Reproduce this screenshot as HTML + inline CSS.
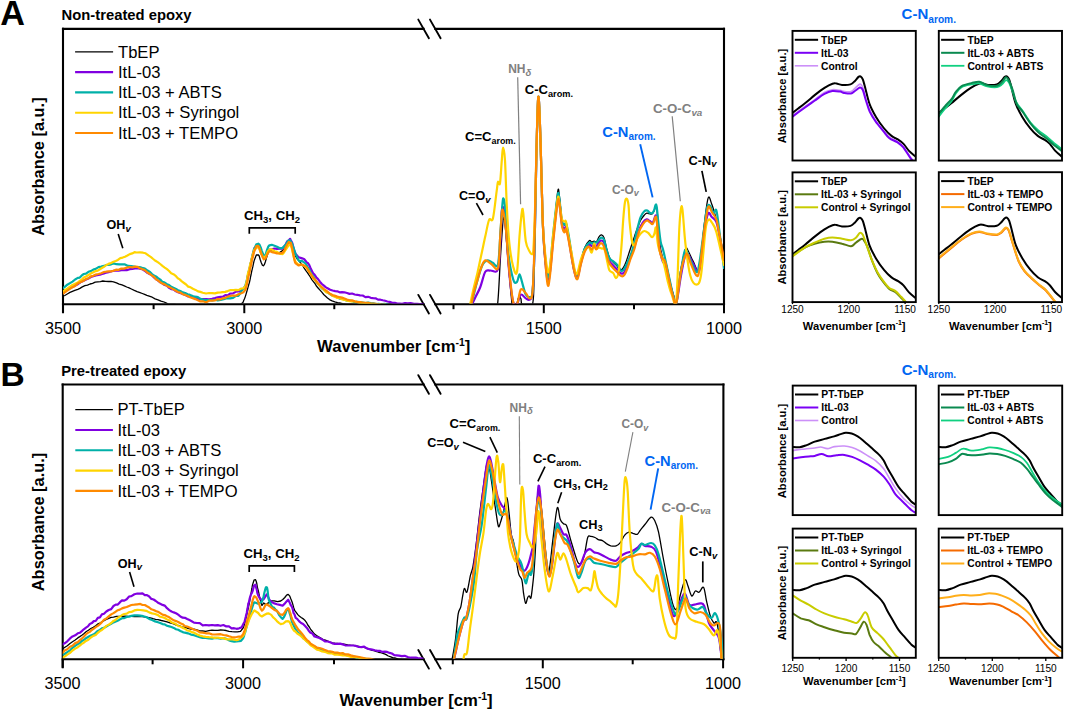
<!DOCTYPE html>
<html><head><meta charset="utf-8"><title>FTIR spectra</title>
<style>html,body{margin:0;padding:0;background:#fff;width:1065px;height:711px;overflow:hidden}
svg{display:block;font-family:"Liberation Sans", sans-serif}</style></head>
<body>
<svg width="1065" height="711" viewBox="0 0 1065 711" font-family='"Liberation Sans", sans-serif'>
<rect width="1065" height="711" fill="#fff"/>
<text x="0.3" y="24.8" font-size="34.20" font-weight="bold" fill="#000" text-anchor="start">A</text>
<text x="61.6" y="19.8" font-size="14.80" font-weight="bold" fill="#000" text-anchor="start">Non-treated epoxy</text>
<g stroke="#000" stroke-width="2.1" fill="none" stroke-linecap="square">
<path d="M63.0,28.9 V311.7"/>
<path d="M724.0,28.9 V304.2"/>
<path d="M63.0,28.9 H423.6 M435.3,28.9 H724.0"/>
<path d="M63.0,304.2 H423.6 M435.3,304.2 H724.0"/>
</g>
<g stroke="#000" stroke-width="1.9" stroke-linecap="round">
<path d="M418.3,19.6 L428.9,38.2"/>
<path d="M430.0,19.6 L440.6,38.2"/>
<path d="M418.3,294.9 L428.9,313.5"/>
<path d="M430.0,294.9 L440.6,313.5"/>
</g>
<g stroke="#000" stroke-width="2">
<path d="M63.0,304.2 V313.2"/>
<path d="M244.3,304.2 V313.2"/>
<path d="M543.8,304.2 V313.2"/>
<path d="M724.0,304.2 V313.2"/>
<path d="M153.6,304.2 V309.2"/>
<path d="M334.3,304.2 V309.2"/>
<path d="M453.5,304.2 V309.2"/>
<path d="M634.0,304.2 V309.2"/>
</g>
<text x="62.9" y="333.8" font-size="16.20" font-weight="normal" fill="#000" text-anchor="middle">3500</text>
<text x="244.3" y="333.8" font-size="16.20" font-weight="normal" fill="#000" text-anchor="middle">3000</text>
<text x="543.8" y="333.8" font-size="16.20" font-weight="normal" fill="#000" text-anchor="middle">1500</text>
<text x="724.0" y="333.8" font-size="16.20" font-weight="normal" fill="#000" text-anchor="middle">1000</text>
<text transform="translate(43.9,166.6) rotate(-90)" x="0" y="0" font-size="16.40" font-weight="bold" text-anchor="middle">Absorbance [a.u.]</text>
<text x="317.0" y="352.4" font-size="16.70" font-weight="bold">Wavenumber [cm<tspan font-size="10.35" dy="-6.3">-1</tspan><tspan dy="6.3">]</tspan></text>
<path d="M75.1,51.8 L113.1,51.8" stroke="#000" stroke-width="1.30" fill="none"/>
<text x="118.0" y="57.5" font-size="16.60" font-weight="normal" fill="#000" text-anchor="start">TbEP</text>
<path d="M75.1,72.1 L113.1,72.1" stroke="#8000e0" stroke-width="2.10" fill="none"/>
<text x="118.0" y="77.8" font-size="16.60" font-weight="normal" fill="#000" text-anchor="start">ItL-03</text>
<path d="M75.1,92.4 L113.1,92.4" stroke="#00b0a8" stroke-width="2.10" fill="none"/>
<text x="118.0" y="98.1" font-size="16.60" font-weight="normal" fill="#000" text-anchor="start">ItL-03 + ABTS</text>
<path d="M75.1,112.7 L113.1,112.7" stroke="#ffd400" stroke-width="2.10" fill="none"/>
<text x="118.0" y="118.4" font-size="16.60" font-weight="normal" fill="#000" text-anchor="start">ItL-03 + Syringol</text>
<path d="M75.1,133.0 L113.1,133.0" stroke="#ff8a00" stroke-width="2.10" fill="none"/>
<text x="118.0" y="138.7" font-size="16.60" font-weight="normal" fill="#000" text-anchor="start">ItL-03 + TEMPO</text>
<text x="0.6" y="385.9" font-size="33.50" font-weight="bold" fill="#000" text-anchor="start">B</text>
<text x="61.2" y="375.6" font-size="14.80" font-weight="bold" fill="#000" text-anchor="start">Pre-treated epoxy</text>
<g stroke="#000" stroke-width="2.1" fill="none" stroke-linecap="square">
<path d="M62.7,384.5 V666.8"/>
<path d="M723.4,384.5 V659.3"/>
<path d="M62.7,384.5 H423.6 M435.3,384.5 H723.4"/>
<path d="M62.7,659.3 H423.6 M435.3,659.3 H723.4"/>
</g>
<g stroke="#000" stroke-width="1.9" stroke-linecap="round">
<path d="M418.3,375.2 L428.9,393.8"/>
<path d="M430.0,375.2 L440.6,393.8"/>
<path d="M418.3,650.0 L428.9,668.6"/>
<path d="M430.0,650.0 L440.6,668.6"/>
</g>
<g stroke="#000" stroke-width="2">
<path d="M62.7,659.3 V668.3"/>
<path d="M243.1,659.3 V668.3"/>
<path d="M542.8,659.3 V668.3"/>
<path d="M723.1,659.3 V668.3"/>
<path d="M152.6,659.3 V664.3"/>
<path d="M334.0,659.3 V664.3"/>
<path d="M452.8,659.3 V664.3"/>
<path d="M632.7,659.3 V664.3"/>
</g>
<text x="62.6" y="689.0" font-size="16.20" font-weight="normal" fill="#000" text-anchor="middle">3500</text>
<text x="243.1" y="689.0" font-size="16.20" font-weight="normal" fill="#000" text-anchor="middle">3000</text>
<text x="542.8" y="689.0" font-size="16.20" font-weight="normal" fill="#000" text-anchor="middle">1500</text>
<text x="723.1" y="689.0" font-size="16.20" font-weight="normal" fill="#000" text-anchor="middle">1000</text>
<text transform="translate(43.6,522.0) rotate(-90)" x="0" y="0" font-size="16.40" font-weight="bold" text-anchor="middle">Absorbance [a.u.]</text>
<text x="339.4" y="705.8" font-size="16.70" font-weight="bold">Wavenumber [cm<tspan font-size="10.35" dy="-6.3">-1</tspan><tspan dy="6.3">]</tspan></text>
<path d="M75.3,409.7 L112.9,409.7" stroke="#000" stroke-width="1.30" fill="none"/>
<text x="117.5" y="415.4" font-size="16.60" font-weight="normal" fill="#000" text-anchor="start">PT-TbEP</text>
<path d="M75.3,430.0 L112.9,430.0" stroke="#8000e0" stroke-width="2.10" fill="none"/>
<text x="117.5" y="435.7" font-size="16.60" font-weight="normal" fill="#000" text-anchor="start">ItL-03</text>
<path d="M75.3,450.3 L112.9,450.3" stroke="#00b0a8" stroke-width="2.10" fill="none"/>
<text x="117.5" y="456.0" font-size="16.60" font-weight="normal" fill="#000" text-anchor="start">ItL-03 + ABTS</text>
<path d="M75.3,470.6 L112.9,470.6" stroke="#ffd400" stroke-width="2.10" fill="none"/>
<text x="117.5" y="476.3" font-size="16.60" font-weight="normal" fill="#000" text-anchor="start">ItL-03 + Syringol</text>
<path d="M75.3,490.9 L112.9,490.9" stroke="#ff8a00" stroke-width="2.10" fill="none"/>
<text x="117.5" y="496.6" font-size="16.60" font-weight="normal" fill="#000" text-anchor="start">ItL-03 + TEMPO</text>
<defs><clipPath id="cAL"><rect x="63" y="28" width="360.6" height="275.6"/></clipPath><clipPath id="cAR"><rect x="435.3" y="28" width="288.7" height="275.6"/></clipPath><clipPath id="cBL"><rect x="62.7" y="384" width="360.9" height="274.7"/></clipPath><clipPath id="cBR"><rect x="435.3" y="384" width="288.1" height="274.7"/></clipPath></defs>
<g clip-path="url(#cAL)">
<path d="M63.0,296.1 L64.8,295.5 L67.3,294.0 L70.0,292.4 L72.4,291.4 L74.8,290.4 L77.8,289.3 L79.9,288.4 L82.3,286.9 L84.9,285.7 L87.5,285.1 L90.0,284.0 L92.6,283.4 L95.2,282.2 L97.8,281.9 L100.4,281.6 L102.8,281.0 L105.7,281.4 L108.4,281.5 L111.0,281.4 L113.5,281.8 L116.5,282.9 L119.2,284.1 L122.0,284.9 L124.3,285.8 L126.7,287.0 L129.1,287.9 L131.4,289.0 L134.3,290.4 L137.1,291.6 L140.0,292.6 L142.3,293.5 L144.6,294.4 L146.9,295.4 L149.2,296.2 L152.2,297.2 L155.1,298.9 L158.0,299.8 L161.0,301.1 L164.1,302.0 L167.0,303.4 L167.8,304.0 L168.4,304.1 L175.0,304.5 L176.5,304.8 L178.3,304.8 L180.2,304.9 L182.4,304.6 L184.7,304.9 L187.2,304.8 L189.8,304.6 L192.5,304.8 L195.4,305.0 L198.3,304.9 L201.2,304.7 L204.2,304.8 L207.2,304.4 L210.2,304.5 L213.1,304.9 L216.0,304.6 L218.8,304.5 L221.5,304.7 L224.1,304.8 L226.5,304.7 L228.8,304.6 L230.9,304.6 L232.9,304.6 L234.6,304.8 L236.0,304.6 L242.2,304.5 L241.0,304.3 L243.1,302.2 L243.7,300.6 L244.5,298.8 L245.3,296.6 L246.2,293.6 L247.1,290.5 L248.0,287.4 L248.8,284.5 L249.4,282.5 L250.0,279.9 L250.5,277.1 L251.1,274.5 L251.7,271.3 L252.3,268.8 L252.9,266.4 L253.4,263.8 L253.9,261.7 L254.4,259.9 L256.3,255.0 L258.2,254.8 L259.1,255.8 L260.1,259.2 L261.2,262.5 L262.3,265.1 L263.4,265.8 L264.3,264.7 L265.3,262.0 L266.2,258.8 L267.3,255.4 L268.3,252.3 L269.4,250.9 L271.9,250.3 L274.6,251.4 L277.0,252.6 L279.8,252.3 L282.6,250.6 L284.4,248.4 L286.4,245.5 L288.3,243.1 L290.1,242.4 L291.1,243.4 L292.1,245.3 L293.0,248.1 L293.9,251.1 L294.8,254.1 L295.7,256.5 L297.5,259.3 L299.4,261.4 L301.4,264.0 L302.8,265.6 L304.2,268.2 L305.7,270.4 L307.2,272.4 L308.9,274.8 L310.3,276.9 L311.8,279.6 L313.4,281.6 L315.0,283.7 L316.6,286.3 L318.3,288.2 L320.0,290.1 L321.8,292.2 L323.7,294.5 L325.6,296.2 L327.5,297.9 L329.5,299.6 L332.1,300.8 L334.8,301.8 L337.6,302.6 L340.3,303.0 L342.7,303.7 L346.4,304.3 L349.7,304.3 L352.0,304.4" fill="none" stroke="#000" stroke-width="1.30" stroke-linejoin="round" stroke-linecap="round"/>
<path d="M63.0,293.0 L64.8,291.9 L67.3,289.1 L70.0,287.5 L72.5,287.1 L75.1,285.6 L77.8,284.2 L80.4,282.3 L83.1,281.1 L86.0,279.6 L88.4,278.5 L90.8,277.0 L93.3,276.3 L95.7,275.4 L98.5,274.8 L101.2,274.3 L104.0,273.5 L106.3,272.6 L108.6,272.1 L111.0,271.5 L113.5,270.8 L116.0,270.5 L118.7,270.6 L121.3,270.1 L124.0,269.9 L126.8,270.1 L129.7,269.2 L132.4,268.9 L134.9,268.4 L137.5,268.1 L139.8,268.7 L142.1,269.1 L144.7,270.7 L147.3,272.8 L150.0,274.2 L152.0,275.1 L154.0,277.5 L156.0,279.1 L158.1,280.6 L160.3,282.3 L162.5,283.5 L164.7,285.0 L167.0,285.8 L169.1,287.9 L171.2,289.1 L173.4,289.3 L176.0,291.3 L178.1,292.2 L180.3,292.9 L182.8,293.9 L185.2,294.9 L187.7,296.3 L190.0,296.5 L192.7,297.6 L195.3,297.7 L197.9,298.8 L200.4,299.2 L202.7,299.0 L206.1,299.2 L209.1,299.4 L212.0,298.8 L214.9,298.1 L217.7,297.3 L220.6,296.8 L222.9,296.6 L225.3,295.2 L227.7,295.3 L230.0,293.7 L233.1,293.4 L236.0,291.6 L238.4,291.5 L241.3,290.2 L243.4,288.8 L245.5,286.0 L246.2,284.2 L246.8,281.7 L247.4,278.5 L248.0,275.2 L248.8,272.0 L249.3,270.2 L249.9,267.2 L250.6,263.7 L251.2,261.6 L251.9,258.5 L252.6,255.9 L253.2,252.4 L253.8,250.8 L254.4,248.3 L258.2,246.2 L259.2,247.4 L260.3,250.1 L261.5,253.9 L262.7,255.5 L263.8,257.3 L265.6,256.4 L267.4,252.2 L269.4,249.5 L271.9,249.3 L274.5,248.5 L277.0,248.8 L279.8,248.6 L282.6,248.6 L284.0,246.8 L285.6,244.8 L287.1,241.4 L288.7,240.4 L290.1,238.8 L291.1,240.9 L292.1,242.5 L293.0,245.8 L293.9,249.8 L294.8,251.9 L295.7,254.1 L298.6,257.3 L301.4,258.1 L304.1,259.0 L307.0,262.6 L308.1,263.3 L309.3,265.2 L310.5,268.0 L311.8,270.7 L313.1,273.3 L314.5,274.6 L316.2,277.2 L318.0,279.1 L319.9,281.7 L321.9,284.0 L323.9,285.7 L325.9,287.4 L328.0,288.5 L330.2,289.7 L332.6,290.5 L335.2,291.1 L337.3,291.3 L339.6,292.3 L342.0,292.2 L344.4,292.3 L347.0,293.0 L349.5,293.9 L352.1,293.5 L354.7,294.5 L357.3,294.8 L360.0,295.4 L362.7,295.5 L365.4,297.1 L368.1,296.8 L370.8,297.8 L373.2,298.2 L375.6,298.3 L378.0,299.6 L380.4,299.7 L382.8,300.3 L385.1,300.8 L387.4,301.5 L389.6,301.8 L392.3,302.8 L394.9,302.9 L397.3,303.6 L399.7,303.6 L402.3,303.8 L405.0,303.0 L407.7,303.4 L410.7,303.2 L413.9,303.8 L417.0,303.9 L419.9,304.2 L422.3,304.2 L424.0,303.7" fill="none" stroke="#8000e0" stroke-width="2.20" stroke-linejoin="round" stroke-linecap="round"/>
<path d="M63.0,288.0 L64.8,286.9 L67.3,284.7 L70.0,283.1 L72.5,281.6 L75.1,279.5 L77.8,277.9 L79.8,277.6 L81.8,275.4 L83.8,274.0 L86.0,273.6 L88.4,271.8 L90.8,271.1 L93.3,269.6 L95.7,268.9 L98.5,267.1 L101.2,266.6 L104.0,265.9 L106.3,265.0 L108.7,264.8 L111.2,264.3 L113.5,263.4 L116.4,264.2 L119.1,264.3 L122.0,264.3 L125.0,264.4 L128.1,265.9 L131.4,266.0 L134.0,266.5 L136.8,267.0 L139.6,267.1 L142.1,267.9 L144.9,268.5 L147.5,270.6 L150.0,271.9 L152.0,274.0 L154.0,275.6 L156.0,276.4 L158.1,278.1 L160.3,279.6 L162.5,281.9 L164.7,282.6 L167.0,284.2 L169.1,285.1 L171.2,286.6 L173.4,287.8 L176.0,289.0 L178.1,290.2 L180.3,291.1 L182.8,292.4 L185.2,293.0 L187.7,294.2 L190.0,294.9 L192.7,296.1 L195.3,296.7 L197.9,297.1 L200.4,298.8 L202.7,299.6 L206.1,300.1 L209.1,300.0 L212.0,300.3 L214.9,299.8 L217.7,300.5 L220.6,300.0 L223.7,299.2 L226.9,298.2 L230.0,298.4 L233.1,297.8 L236.0,295.9 L238.4,295.8 L240.1,293.6 L241.3,291.1 L242.6,289.5 L244.1,288.1 L245.5,285.4 L246.2,282.3 L246.8,280.6 L247.4,277.3 L248.0,275.1 L248.8,271.2 L249.3,269.6 L249.9,267.2 L250.6,263.9 L251.2,261.6 L251.9,257.9 L252.6,254.9 L253.2,252.9 L253.8,250.0 L254.4,248.4 L256.4,244.2 L258.2,243.7 L259.5,244.7 L260.7,247.4 L261.9,251.1 L263.2,254.4 L264.7,256.9 L265.5,255.4 L266.3,252.3 L267.2,249.4 L268.2,246.8 L269.4,245.3 L271.8,244.8 L274.5,245.7 L277.0,246.7 L279.8,248.3 L282.6,247.9 L284.4,246.1 L286.4,243.6 L288.3,240.6 L290.1,240.2 L291.2,242.2 L292.2,243.8 L293.1,246.6 L294.0,249.0 L294.9,252.2 L295.7,254.6 L297.0,256.8 L298.2,259.6 L299.5,261.2 L301.9,260.8 L305.1,263.1 L306.2,264.4 L307.5,266.8 L308.9,268.8 L310.3,271.9 L311.7,274.6 L313.1,276.2 L314.5,278.4 L316.0,281.3 L317.6,283.7 L319.1,284.8 L320.6,286.8 L322.2,288.7 L323.9,289.9 L325.9,291.6 L328.0,292.9 L330.2,294.3 L332.6,295.7 L335.2,296.5 L337.3,297.3 L339.6,298.6 L342.0,298.4 L344.4,299.8 L347.0,300.6 L349.5,300.7 L352.1,301.1 L354.7,302.2 L357.3,301.9 L360.0,302.1 L362.7,302.6 L365.4,303.1 L368.1,302.6 L370.8,303.1 L373.3,303.3 L376.0,304.1 L378.8,303.8 L381.6,304.5 L384.2,303.8 L386.5,304.2 L388.5,304.7 L390.0,305.1" fill="none" stroke="#00b0a8" stroke-width="2.20" stroke-linejoin="round" stroke-linecap="round"/>
<path d="M63.0,291.6 L64.8,290.2 L67.3,288.7 L70.0,286.7 L72.5,285.0 L75.1,283.7 L77.8,282.5 L79.8,281.0 L81.8,279.6 L83.8,277.6 L86.0,276.5 L88.4,275.0 L90.8,273.6 L93.3,272.3 L95.7,271.1 L97.8,270.6 L99.9,269.3 L101.9,268.0 L104.0,266.8 L106.2,265.0 L108.5,263.9 L111.0,263.0 L113.5,261.8 L115.7,260.9 L117.9,259.9 L120.3,258.1 L122.7,257.6 L125.0,256.7 L127.4,255.5 L129.8,254.1 L132.2,253.4 L134.5,252.2 L136.7,252.5 L140.0,252.4 L143.0,252.7 L145.6,253.3 L148.4,255.4 L151.0,257.1 L153.2,259.0 L155.5,260.8 L158.1,262.4 L160.2,264.0 L162.4,265.9 L164.7,267.6 L167.0,269.2 L169.1,271.0 L171.2,273.2 L173.4,274.2 L176.0,276.2 L177.8,278.2 L179.7,279.4 L181.8,281.4 L184.0,283.0 L186.1,284.5 L188.2,286.6 L190.2,287.1 L192.9,288.8 L195.5,289.9 L198.0,291.4 L200.4,291.9 L202.7,292.7 L206.1,293.5 L209.1,293.0 L212.0,293.1 L214.9,293.4 L217.7,292.6 L220.6,292.4 L222.9,292.1 L225.3,291.9 L227.7,291.1 L230.0,290.2 L233.1,290.1 L236.0,289.9 L238.4,290.1 L241.3,288.5 L243.4,288.4 L245.5,286.0 L246.1,284.2 L246.6,281.7 L247.1,279.3 L247.6,275.5 L248.1,272.8 L248.8,270.5 L249.4,267.9 L250.1,264.8 L250.8,262.4 L251.6,259.2 L252.3,256.6 L253.1,253.5 L253.8,251.2 L254.4,249.7 L258.2,246.6 L259.2,248.5 L260.3,251.9 L261.5,254.3 L262.7,256.5 L263.8,257.7 L265.2,256.9 L266.5,254.8 L267.9,251.5 L269.4,249.6 L271.9,249.3 L274.5,251.3 L277.0,251.9 L279.8,253.7 L282.6,254.1 L284.0,252.5 L285.6,250.0 L287.1,247.7 L288.7,245.1 L290.1,244.6 L291.0,246.2 L291.7,248.1 L292.4,251.6 L293.1,253.9 L293.9,257.3 L294.7,260.3 L295.7,261.9 L297.8,264.3 L300.2,264.6 L302.7,265.0 L305.1,266.6 L306.7,268.0 L308.2,270.5 L309.8,272.6 L311.4,275.7 L312.9,278.0 L314.5,279.8 L316.3,281.6 L318.2,284.1 L320.0,286.1 L321.9,288.0 L323.9,289.8 L325.9,292.1 L328.0,292.7 L330.2,293.9 L332.6,296.0 L335.2,296.8 L337.3,298.0 L339.6,298.1 L342.0,299.4 L344.5,299.8 L347.0,300.6 L349.6,301.1 L352.1,301.4 L354.7,301.5 L357.4,302.1 L360.1,303.1 L362.8,303.5 L365.4,303.9 L367.8,303.6 L370.0,304.2 L373.3,304.6 L376.1,304.6 L378.4,304.9 L380.0,304.6" fill="none" stroke="#ffd400" stroke-width="2.20" stroke-linejoin="round" stroke-linecap="round"/>
<path d="M63.0,293.6 L64.8,292.4 L67.3,290.6 L70.0,288.9 L72.5,287.2 L75.1,285.9 L77.8,283.4 L80.4,282.2 L83.1,281.0 L86.0,279.1 L88.4,278.3 L90.8,276.4 L93.3,275.8 L95.7,274.6 L98.5,274.0 L101.2,273.3 L104.0,272.0 L106.3,271.7 L108.6,271.3 L111.0,271.4 L113.5,270.8 L116.0,269.7 L118.7,269.8 L121.3,268.6 L124.0,268.6 L126.8,267.6 L129.7,267.0 L132.4,267.4 L134.9,266.6 L137.5,266.8 L139.8,268.2 L142.1,269.1 L144.7,270.0 L147.3,272.5 L150.0,274.0 L152.0,275.7 L154.0,276.8 L156.0,279.2 L158.1,280.5 L160.3,282.3 L162.5,283.6 L164.7,284.4 L167.0,285.9 L169.1,286.9 L171.2,288.1 L173.4,289.3 L176.0,290.8 L178.1,292.1 L180.3,292.5 L182.8,294.2 L185.2,294.9 L187.7,295.9 L190.0,297.3 L192.7,298.1 L195.3,299.1 L197.9,300.3 L200.4,301.4 L202.7,301.3 L206.1,302.2 L209.1,300.7 L212.0,300.7 L214.9,300.4 L217.7,299.1 L220.6,299.3 L222.9,298.3 L225.3,297.9 L227.7,296.6 L230.0,296.0 L233.1,295.5 L236.0,295.6 L238.4,294.3 L241.3,293.3 L243.4,292.3 L245.5,289.6 L246.1,287.4 L246.6,285.5 L247.1,283.4 L247.6,281.1 L248.1,277.7 L248.8,275.2 L249.3,273.2 L249.8,270.8 L250.4,267.4 L251.0,265.5 L251.6,261.8 L252.2,259.3 L252.8,257.0 L253.4,254.9 L253.9,252.2 L254.4,251.1 L256.3,246.1 L258.2,245.8 L259.2,247.6 L260.3,250.7 L261.5,254.1 L262.7,257.3 L263.8,259.4 L265.6,258.4 L267.4,253.9 L269.4,251.1 L271.9,252.1 L274.5,252.8 L277.0,253.4 L279.8,253.5 L282.6,252.7 L284.0,251.0 L285.6,247.6 L287.1,244.5 L288.7,242.0 L290.1,242.7 L290.8,242.9 L291.5,245.3 L292.1,248.2 L292.7,250.4 L293.3,254.1 L293.9,257.4 L294.5,259.9 L295.1,262.4 L295.7,263.4 L298.7,265.5 L301.4,264.4 L305.1,266.0 L306.3,267.0 L307.8,269.2 L309.4,272.2 L311.2,274.6 L312.9,277.2 L314.5,278.9 L316.3,281.2 L318.2,283.6 L320.0,285.5 L321.9,287.2 L323.9,289.1 L325.9,290.4 L328.0,292.1 L330.2,294.0 L332.6,295.1 L335.2,295.9 L337.3,296.6 L339.6,297.2 L342.0,297.6 L344.4,298.5 L347.0,299.6 L349.5,300.3 L352.1,300.4 L354.7,301.3 L357.4,301.8 L360.2,302.1 L363.0,302.5 L365.7,302.9 L368.3,302.9 L370.8,303.5 L374.2,303.5 L377.5,304.0 L380.6,304.5 L383.1,304.6 L385.0,304.4" fill="none" stroke="#ff8a00" stroke-width="2.20" stroke-linejoin="round" stroke-linecap="round"/>
</g>
<g clip-path="url(#cAR)">
<path d="M494.0,304.6 C494.6,304.5 496.5,312.0 497.6,304.0 C498.7,296.0 499.6,270.4 500.5,256.6 C501.4,242.8 502.4,227.4 503.0,221.1 C503.6,214.8 503.9,217.8 504.3,218.6 C504.7,219.4 504.8,222.1 505.2,226.0 C505.6,229.9 506.1,236.0 506.6,242.0 C507.1,248.0 507.6,255.2 508.2,262.0 C508.8,268.8 509.4,276.2 510.0,283.0 C510.6,289.8 511.5,299.4 511.9,303.0 C512.3,306.6 511.8,304.3 512.6,304.6 C513.4,304.9 515.6,305.5 516.5,304.6 C517.4,303.7 517.5,300.4 518.0,299.0 C518.5,297.6 519.0,296.5 519.5,296.5 C520.0,296.5 520.5,297.6 521.0,299.0 C521.5,300.4 520.6,303.7 522.5,304.6 C524.4,305.5 530.5,312.0 532.5,304.6 C534.5,297.2 533.6,284.1 534.2,260.0 C534.8,235.9 535.5,187.2 536.2,160.0 C536.9,132.8 537.6,100.3 538.3,97.0 C539.0,93.7 539.8,120.3 540.5,140.0 C541.2,159.7 541.9,196.7 542.5,215.0 C543.1,233.3 543.4,239.3 544.2,250.0 C545.1,260.7 546.6,275.7 547.6,279.0 C548.6,282.3 549.1,277.5 550.1,270.0 C551.1,262.5 552.2,247.0 553.5,234.0 C554.8,221.0 556.7,198.1 557.7,191.8 C558.7,185.5 558.7,191.3 559.4,196.0 C560.1,200.7 561.1,215.2 561.9,220.0 C562.7,224.8 563.7,224.4 564.4,225.0 C565.1,225.6 565.4,221.7 566.1,223.5 C566.8,225.3 567.4,228.4 568.7,236.0 C570.0,243.6 572.5,262.7 574.0,269.2 C575.5,275.7 576.2,276.4 577.4,275.1 C578.5,273.8 579.7,265.9 580.9,261.3 C582.1,256.7 583.4,251.0 584.8,247.6 C586.2,244.2 588.1,241.6 589.2,240.7 C590.4,239.8 590.9,242.0 591.7,242.1 C592.5,242.2 593.3,241.3 594.1,241.2 C594.9,241.1 595.8,242.4 596.6,241.7 C597.4,240.9 598.3,237.8 599.1,236.7 C599.9,235.5 600.7,234.6 601.5,234.8 C602.3,235.0 603.2,235.6 604.0,237.7 C604.8,239.8 605.5,244.3 606.4,247.6 C607.3,250.9 608.2,254.9 609.4,257.4 C610.5,259.8 612.0,260.8 613.3,262.3 C614.6,263.8 616.1,265.0 617.3,266.3 C618.4,267.6 619.2,269.9 620.2,270.2 C621.2,270.5 622.2,269.4 623.2,268.0 C624.2,266.6 624.9,265.0 626.0,262.0 C627.1,259.0 628.6,254.2 630.0,250.0 C631.4,245.8 633.0,240.7 634.3,237.0 C635.5,233.3 636.5,230.8 637.5,228.0 C638.5,225.2 639.4,222.7 640.5,220.5 C641.6,218.3 643.3,216.3 644.3,215.1 C645.3,213.9 645.9,213.4 646.7,213.2 C647.5,212.9 648.1,213.5 649.0,213.6 C649.9,213.7 651.2,214.4 652.0,214.0 C652.8,213.6 653.4,212.2 654.0,211.0 C654.6,209.8 655.0,207.2 655.5,207.0 C656.0,206.8 656.4,205.6 657.0,210.0 C657.6,214.4 658.4,227.2 659.0,233.7 C659.6,240.2 659.8,244.4 660.6,249.1 C661.4,253.8 662.6,257.2 663.9,262.0 C665.2,266.8 667.0,272.7 668.5,278.0 C670.0,283.3 671.9,290.0 673.2,294.0 C674.5,298.0 675.3,304.3 676.3,302.0 C677.3,299.7 678.5,285.5 679.3,280.0 C680.1,274.5 679.9,274.3 680.9,269.2 C681.9,264.1 684.3,252.2 685.5,249.1 C686.7,246.0 686.7,248.4 688.0,250.5 C689.3,252.6 691.3,258.3 693.2,261.4 C695.1,264.5 697.6,275.1 699.4,269.2 C701.2,263.3 702.6,237.8 704.1,225.9 C705.6,214.1 706.8,201.7 708.1,198.1 C709.4,194.5 710.4,200.7 711.8,204.3 C713.2,207.9 715.0,214.4 716.4,219.7 C717.8,225.0 718.7,229.6 720.0,236.0 C721.3,242.4 723.3,254.3 724.0,258.0" fill="none" stroke="#000" stroke-width="1.30" stroke-linejoin="round" stroke-linecap="round"/>
<path d="M472.0,304.6 C472.7,303.2 474.6,298.9 476.0,296.0 C477.4,293.1 478.8,291.0 480.3,287.0 C481.9,283.0 483.6,274.6 485.3,271.8 C487.0,269.1 488.3,270.9 490.4,270.5 C492.5,270.1 496.3,274.3 498.0,269.2 C499.7,264.1 499.9,249.7 500.5,240.0 C501.1,230.3 501.3,216.2 501.8,211.0 C502.3,205.8 502.9,206.4 503.5,208.5 C504.1,210.6 504.6,212.7 505.6,223.7 C506.6,234.7 508.1,261.2 509.4,274.3 C510.7,287.4 511.9,297.1 513.2,302.0 C514.5,306.9 515.7,305.2 517.0,304.0 C518.3,302.8 519.3,295.5 520.8,294.6 C522.3,293.7 524.3,297.6 525.8,298.4 C527.3,299.2 528.5,300.5 529.6,299.6 C530.7,298.7 531.7,301.3 532.5,293.0 C533.3,284.7 533.9,272.2 534.5,250.0 C535.1,227.8 535.7,185.5 536.3,160.0 C536.9,134.5 537.6,100.3 538.3,97.0 C539.0,93.7 539.8,120.3 540.5,140.0 C541.2,159.7 541.9,197.0 542.5,215.0 C543.1,233.0 543.4,237.0 544.2,248.0 C545.1,259.0 546.6,277.2 547.6,281.0 C548.6,284.8 549.1,278.5 550.1,271.0 C551.1,263.5 552.2,248.0 553.5,236.0 C554.8,224.0 556.7,204.5 557.7,199.0 C558.7,193.5 558.7,198.8 559.4,203.0 C560.1,207.2 561.1,219.6 561.9,224.0 C562.7,228.4 563.7,229.2 564.4,229.7 C565.1,230.2 565.4,225.4 566.1,227.0 C566.8,228.6 567.4,231.8 568.7,239.0 C570.0,246.2 572.5,263.6 574.0,270.0 C575.5,276.4 576.2,278.7 577.4,277.5 C578.5,276.3 579.7,267.6 580.9,263.0 C582.1,258.4 583.4,253.1 584.8,250.0 C586.2,246.9 588.1,245.2 589.2,244.5 C590.4,243.8 590.9,246.0 591.7,246.0 C592.5,246.0 593.3,244.5 594.1,244.5 C594.9,244.5 595.8,246.4 596.6,246.0 C597.4,245.6 598.3,242.9 599.1,242.0 C599.9,241.1 600.7,240.4 601.5,240.5 C602.3,240.6 603.2,240.7 604.0,242.5 C604.8,244.3 605.5,248.4 606.4,251.5 C607.3,254.6 608.2,258.7 609.4,261.0 C610.5,263.3 612.0,264.1 613.3,265.5 C614.6,266.9 616.0,268.2 617.3,269.5 C618.6,270.8 620.1,273.0 621.2,273.5 C622.4,274.0 623.2,273.8 624.2,272.5 C625.2,271.2 626.5,268.6 627.5,266.0 C628.5,263.4 629.4,260.2 630.5,257.0 C631.6,253.8 632.9,251.4 634.3,247.0 C635.7,242.6 637.5,234.6 638.9,230.5 C640.3,226.4 641.5,224.4 642.8,222.5 C644.1,220.6 645.6,219.6 646.7,219.3 C647.9,219.1 648.7,220.5 649.7,221.0 C650.7,221.5 651.8,223.4 652.8,222.5 C653.8,221.6 654.9,216.1 655.5,215.5 C656.1,214.9 656.2,215.6 656.7,219.0 C657.2,222.4 657.8,231.0 658.3,236.0 C658.8,241.0 658.8,244.7 659.6,249.0 C660.4,253.3 662.0,259.8 663.0,262.0 C664.0,264.2 664.2,258.7 665.3,262.0 C666.4,265.3 668.4,276.3 669.7,282.0 C671.0,287.7 672.1,292.5 673.2,296.0 C674.3,299.5 675.0,306.4 676.3,303.1 C677.6,299.8 679.4,284.2 680.9,276.0 C682.4,267.8 684.3,257.7 685.5,254.0 C686.7,250.3 686.7,252.3 688.0,254.0 C689.3,255.7 691.3,261.3 693.2,264.0 C695.1,266.7 697.6,275.3 699.4,270.0 C701.2,264.7 702.6,241.4 704.1,232.0 C705.6,222.6 706.8,216.1 708.1,213.6 C709.4,211.1 710.4,215.6 711.8,217.0 C713.2,218.4 715.1,218.8 716.4,222.0 C717.7,225.2 718.2,229.3 719.5,236.0 C720.8,242.7 723.2,257.7 724.0,262.0" fill="none" stroke="#8000e0" stroke-width="2.20" stroke-linejoin="round" stroke-linecap="round"/>
<path d="M471.4,304.2 C472.4,300.1 475.8,286.1 477.7,279.4 C479.6,272.7 481.1,267.4 482.8,264.2 C484.5,261.0 486.1,260.6 487.8,260.4 C489.5,260.2 491.2,262.3 492.9,262.9 C494.6,263.5 496.7,269.5 498.0,264.2 C499.3,258.9 499.8,241.4 500.5,231.3 C501.2,221.2 502.0,208.9 502.5,203.4 C503.0,197.9 503.1,198.0 503.5,198.4 C503.9,198.8 504.2,197.2 505.0,206.0 C505.8,214.8 506.7,239.3 508.1,251.5 C509.5,263.7 511.7,274.3 513.2,279.4 C514.7,284.5 516.0,282.8 517.0,281.9 C518.0,281.0 518.7,274.3 519.5,274.3 C520.3,274.3 521.0,278.5 522.0,281.9 C523.0,285.3 524.5,292.1 525.8,294.6 C527.1,297.1 528.5,297.5 529.6,297.1 C530.7,296.7 531.7,299.9 532.5,292.0 C533.3,284.1 533.9,272.0 534.5,250.0 C535.1,228.0 535.7,185.5 536.3,160.0 C536.9,134.5 537.6,100.3 538.3,97.0 C539.0,93.7 539.8,120.3 540.5,140.0 C541.2,159.7 541.9,197.3 542.5,215.0 C543.1,232.7 543.4,235.8 544.2,246.0 C545.1,256.2 546.6,272.5 547.6,276.0 C548.6,279.5 549.1,274.5 550.1,267.0 C551.1,259.5 552.2,243.0 553.5,231.0 C554.8,219.0 556.7,200.5 557.7,195.2 C558.7,189.9 558.7,194.7 559.4,199.0 C560.1,203.3 561.1,216.8 561.9,221.0 C562.7,225.2 563.7,224.1 564.4,224.5 C565.1,224.9 565.4,221.7 566.1,223.5 C566.8,225.3 567.4,228.0 568.7,235.5 C570.0,243.0 572.5,262.0 574.0,268.5 C575.5,275.0 576.2,275.5 577.4,274.4 C578.5,273.3 579.7,266.3 580.9,262.0 C582.1,257.7 583.4,251.7 584.8,248.5 C586.2,245.3 588.1,243.4 589.2,242.6 C590.4,241.8 590.9,243.5 591.7,243.5 C592.5,243.5 593.3,242.7 594.1,242.5 C594.9,242.3 595.8,243.0 596.6,242.5 C597.4,242.0 598.3,240.3 599.1,239.5 C599.9,238.7 600.7,237.7 601.5,237.7 C602.3,237.7 603.2,237.8 604.0,239.7 C604.8,241.6 605.5,245.9 606.4,249.0 C607.3,252.1 608.2,256.3 609.4,258.4 C610.5,260.4 612.0,260.2 613.3,261.3 C614.6,262.4 615.9,263.4 617.3,265.0 C618.7,266.6 620.4,270.8 621.7,271.2 C623.0,271.6 624.0,269.1 625.1,267.2 C626.2,265.3 627.2,263.0 628.5,260.0 C629.8,257.0 631.4,253.8 632.7,249.1 C634.1,244.4 635.3,237.4 636.6,232.1 C637.9,226.8 639.2,220.9 640.5,217.4 C641.8,213.9 643.1,212.3 644.3,211.2 C645.4,210.0 646.5,210.2 647.4,210.5 C648.3,210.8 648.9,212.4 649.7,212.8 C650.5,213.2 651.4,213.6 652.1,213.2 C652.8,212.8 653.4,211.8 654.0,210.5 C654.6,209.2 655.0,205.8 655.5,205.1 C656.0,204.4 656.2,203.8 656.7,206.6 C657.2,209.4 657.6,216.3 658.3,222.1 C658.9,227.9 659.8,236.9 660.6,241.4 C661.4,245.9 662.1,246.1 662.9,249.1 C663.7,252.1 664.2,254.2 665.3,259.4 C666.4,264.6 668.4,274.1 669.7,280.1 C671.0,286.1 672.1,291.6 673.2,295.4 C674.3,299.2 675.3,305.4 676.3,303.1 C677.3,300.8 678.0,289.7 679.3,281.5 C680.6,273.3 682.8,258.8 684.0,253.7 C685.2,248.5 685.4,249.6 686.4,250.6 C687.4,251.6 688.6,256.3 690.2,259.9 C691.9,263.5 694.8,271.7 696.3,272.2 C697.8,272.7 698.1,270.2 699.4,263.0 C700.7,255.8 702.8,238.3 704.1,229.0 C705.4,219.7 706.1,211.3 707.1,207.4 C708.1,203.5 709.2,204.8 710.2,205.8 C711.2,206.8 712.3,212.8 713.3,213.6 C714.3,214.4 715.4,207.4 716.4,210.5 C717.4,213.6 718.2,222.5 719.5,232.1 C720.8,241.7 723.2,262.0 724.0,268.0" fill="none" stroke="#00b0a8" stroke-width="2.20" stroke-linejoin="round" stroke-linecap="round"/>
<path d="M470.1,304.6 C470.7,302.0 472.2,294.5 473.5,289.0 C474.8,283.5 476.4,277.6 477.7,271.8 C479.0,266.0 480.2,259.9 481.5,254.0 C482.8,248.1 484.0,242.0 485.3,236.3 C486.6,230.6 487.8,222.9 489.1,219.9 C490.4,216.9 491.6,223.4 492.9,218.6 C494.2,213.8 495.8,196.9 496.7,190.8 C497.6,184.7 497.4,183.2 498.0,181.9 C498.6,180.6 499.4,186.8 500.0,183.2 C500.6,179.6 501.3,166.3 501.8,160.4 C502.3,154.5 502.5,147.7 503.0,147.7 C503.5,147.7 504.4,150.7 505.0,160.4 C505.6,170.1 506.1,192.1 506.8,206.0 C507.5,219.9 508.3,233.8 509.4,243.9 C510.5,254.0 511.9,262.1 513.2,266.7 C514.5,271.3 516.0,276.9 517.0,271.8 C518.0,266.7 518.7,246.4 519.5,236.3 C520.3,226.2 521.4,214.8 522.0,211.0 C522.6,207.2 522.7,208.4 523.3,213.5 C523.9,218.6 524.8,235.1 525.8,241.4 C526.8,247.7 528.5,249.4 529.6,251.5 C530.7,253.6 531.6,254.4 532.2,254.0 C532.8,253.6 532.9,256.3 533.4,249.0 C533.9,241.7 534.5,226.5 535.0,210.0 C535.5,193.5 536.0,168.8 536.5,150.0 C537.0,131.2 537.6,98.7 538.3,97.0 C539.0,95.3 539.8,120.3 540.5,140.0 C541.2,159.7 541.9,197.7 542.5,215.0 C543.1,232.3 543.4,234.7 544.2,244.0 C545.1,253.3 546.6,267.5 547.6,271.0 C548.6,274.5 549.1,271.5 550.1,265.0 C551.1,258.5 552.2,243.1 553.5,232.0 C554.8,220.9 556.7,203.3 557.7,198.5 C558.7,193.7 558.7,199.6 559.4,203.0 C560.1,206.4 561.1,215.9 561.9,219.0 C562.7,222.1 563.7,220.8 564.4,221.3 C565.1,221.8 565.4,219.2 566.1,222.0 C566.8,224.8 567.7,232.4 568.7,238.0 C569.7,243.6 571.0,249.9 572.0,255.4 C573.0,260.9 574.1,268.2 575.0,271.2 C575.9,274.1 576.4,275.1 577.4,273.1 C578.4,271.1 579.7,263.2 580.9,259.4 C582.1,255.6 583.5,252.6 584.8,250.5 C586.1,248.4 587.6,246.7 588.7,247.0 C589.9,247.3 590.8,253.1 591.7,252.5 C592.6,251.9 593.4,244.2 594.1,243.6 C594.8,243.0 595.4,248.3 596.1,249.0 C596.9,249.7 597.7,247.7 598.6,247.6 C599.5,247.5 600.5,248.2 601.5,248.5 C602.5,248.8 603.5,247.2 604.5,249.5 C605.5,251.8 606.6,258.9 607.4,262.3 C608.2,265.8 608.4,268.4 609.4,270.2 C610.4,272.0 612.2,271.8 613.3,273.1 C614.4,274.4 615.0,278.1 615.8,278.1 C616.6,278.1 617.4,277.9 618.3,273.1 C619.2,268.3 620.4,258.4 621.2,249.5 C622.0,240.7 622.6,227.9 623.2,220.0 C623.8,212.1 624.4,205.5 625.0,202.0 C625.6,198.5 626.3,198.4 626.9,198.9 C627.5,199.4 628.0,201.1 628.5,205.0 C629.0,208.9 629.0,216.0 629.6,222.1 C630.2,228.2 631.2,237.5 632.0,241.4 C632.8,245.3 633.4,245.8 634.3,245.3 C635.2,244.8 636.4,240.2 637.4,238.3 C638.4,236.4 639.4,234.9 640.5,233.7 C641.6,232.5 643.0,231.1 644.3,231.0 C645.6,230.9 646.9,231.9 648.2,232.9 C649.5,233.9 651.1,237.1 652.1,237.2 C653.1,237.3 653.8,235.3 654.4,233.7 C655.0,232.1 655.4,226.2 655.9,227.5 C656.4,228.8 657.0,237.8 657.5,241.4 C658.0,245.0 657.9,245.3 659.0,249.1 C660.1,252.9 662.4,258.4 663.9,264.0 C665.4,269.6 666.9,278.0 668.2,283.0 C669.5,288.0 670.2,291.0 671.6,293.9 C673.0,296.8 675.0,310.9 676.3,300.1 C677.6,289.3 678.5,244.2 679.3,229.0 C680.1,213.8 680.4,212.1 680.9,208.9 C681.4,205.7 681.7,204.1 682.5,210.0 C683.3,215.9 684.2,233.5 685.5,244.4 C686.8,255.3 688.4,268.6 690.2,275.3 C692.0,282.0 694.5,284.6 696.3,284.6 C698.1,284.6 699.5,284.6 701.0,275.3 C702.5,266.0 704.3,238.3 705.6,229.0 C706.9,219.7 707.7,220.8 708.7,219.7 C709.7,218.6 710.5,220.4 711.8,222.5 C713.1,224.6 714.4,225.0 716.4,232.1 C718.4,239.2 722.7,259.5 724.0,265.0" fill="none" stroke="#ffd400" stroke-width="2.20" stroke-linejoin="round" stroke-linecap="round"/>
<path d="M471.4,304.6 C471.8,302.5 472.9,296.2 474.0,292.0 C475.1,287.8 476.5,283.4 477.7,279.4 C478.9,275.4 479.7,271.2 481.0,268.0 C482.3,264.8 483.5,261.0 485.3,260.4 C487.1,259.8 489.5,262.9 491.6,264.2 C493.7,265.5 496.6,272.0 498.0,268.0 C499.4,264.0 499.4,249.1 500.0,240.0 C500.6,230.9 501.3,218.3 501.8,213.5 C502.3,208.7 502.4,208.9 503.0,211.0 C503.6,213.1 504.5,216.1 505.6,226.2 C506.7,236.3 508.1,259.1 509.4,271.8 C510.7,284.5 511.9,296.7 513.2,302.2 C514.5,307.7 515.7,306.8 517.0,304.7 C518.3,302.6 519.3,291.4 520.8,289.5 C522.3,287.6 524.3,291.8 525.8,293.3 C527.3,294.8 528.5,298.6 529.6,298.4 C530.7,298.2 531.7,300.1 532.5,292.0 C533.3,283.9 533.7,272.0 534.3,250.0 C534.9,228.0 535.5,185.5 536.2,160.0 C536.9,134.5 537.6,100.1 538.3,96.8 C539.0,93.5 539.8,120.3 540.5,140.0 C541.2,159.7 541.9,197.1 542.5,215.0 C543.1,232.9 543.4,235.8 544.2,247.4 C545.1,259.0 546.6,280.0 547.6,284.5 C548.6,289.0 549.1,282.0 550.1,274.4 C551.1,266.8 552.2,251.1 553.5,239.0 C554.8,226.9 556.7,207.8 557.7,201.9 C558.7,196.0 558.7,199.7 559.4,203.6 C560.1,207.5 561.1,220.7 561.9,225.5 C562.7,230.3 563.7,231.7 564.4,232.3 C565.1,232.9 565.4,227.5 566.1,228.9 C566.8,230.3 567.4,233.8 568.7,240.7 C570.0,247.5 572.5,263.6 574.0,270.0 C575.5,276.4 576.2,280.1 577.4,279.1 C578.5,278.2 579.7,268.9 580.9,264.3 C582.1,259.7 583.5,254.4 584.8,251.5 C586.1,248.6 587.6,246.9 588.7,246.6 C589.9,246.3 590.8,249.7 591.7,249.5 C592.6,249.3 593.4,245.6 594.1,245.6 C594.8,245.6 595.4,249.5 596.1,249.5 C596.9,249.5 597.8,246.7 598.6,245.6 C599.4,244.5 600.2,243.1 601.0,243.1 C601.8,243.1 602.6,243.7 603.5,245.6 C604.4,247.5 605.4,251.4 606.4,254.4 C607.4,257.4 608.2,261.0 609.4,263.3 C610.5,265.6 612.0,266.7 613.3,268.2 C614.6,269.7 616.0,270.9 617.3,272.2 C618.6,273.5 620.1,275.6 621.2,276.1 C622.4,276.6 623.2,276.5 624.2,275.1 C625.2,273.8 626.5,270.7 627.5,268.0 C628.5,265.3 629.4,262.1 630.5,259.0 C631.6,255.8 632.9,253.6 634.3,249.1 C635.7,244.6 637.5,236.2 638.9,232.1 C640.3,228.0 641.5,226.3 642.8,224.4 C644.1,222.5 645.6,220.9 646.7,220.5 C647.9,220.1 648.7,221.5 649.7,222.1 C650.7,222.7 651.8,224.9 652.8,224.0 C653.8,223.1 654.9,217.3 655.5,216.7 C656.1,216.1 656.2,217.0 656.7,220.5 C657.2,224.0 657.8,232.7 658.3,237.5 C658.8,242.3 658.8,245.7 659.4,249.1 C660.0,252.5 661.0,255.8 662.0,258.0 C663.0,260.1 664.0,257.8 665.3,262.0 C666.6,266.2 668.4,277.2 669.7,283.0 C671.0,288.8 672.1,293.6 673.2,297.0 C674.3,300.4 675.0,307.3 676.3,303.1 C677.6,298.9 679.4,280.0 680.9,272.0 C682.4,264.0 684.3,258.1 685.5,255.3 C686.7,252.5 687.2,253.9 688.0,255.0 C688.8,256.1 688.8,258.6 690.2,262.0 C691.6,265.4 694.8,274.0 696.3,275.3 C697.8,276.6 698.1,277.2 699.4,270.0 C700.7,262.8 702.6,242.4 704.1,232.0 C705.6,221.6 706.8,210.7 708.1,207.4 C709.4,204.1 710.4,209.9 711.8,212.0 C713.2,214.1 715.1,215.9 716.4,219.7 C717.7,223.5 718.2,228.3 719.5,235.0 C720.8,241.7 723.2,255.8 724.0,260.0" fill="none" stroke="#ff8a00" stroke-width="2.20" stroke-linejoin="round" stroke-linecap="round"/>
</g>
<text x="106.5" y="229.4" font-size="12.60" font-weight="bold" fill="#000">OH<tspan font-size="9.50" dy="2.5" font-style="italic">v</tspan></text>
<path d="M118.2,234.0 L122.8,248.3" stroke="#000" stroke-width="1.60" fill="none"/>
<text x="244.0" y="219.7" font-weight="bold" fill="#000"><tspan font-size="13.20" dy="-0.0">CH</tspan><tspan font-size="9.50" dy="2.8">3</tspan><tspan font-size="13.20" dy="-2.8">, CH</tspan><tspan font-size="9.50" dy="2.8">2</tspan></text>
<path d="M249.3,233.8 V227.8 H295.2 V233.8" fill="none" stroke="#000" stroke-width="1.7"/>
<text x="459.0" y="200.2" font-size="12.60" font-weight="bold" fill="#000">C=O<tspan font-size="9.50" dy="2.5" font-style="italic">v</tspan></text>
<path d="M476.4,203.1 L483.0,215.0" stroke="#000" stroke-width="1.60" fill="none"/>
<text x="465.0" y="140.9" font-size="13.10" font-weight="bold" fill="#000">C=C<tspan font-size="8.90" dy="3.0">arom.</tspan></text>
<text x="508.2" y="73.4" font-size="12.00" font-weight="bold" fill="#808080">NH<tspan font-size="9.50" dy="2.2" font-style="italic">δ</tspan></text>
<path d="M517.7,77.2 L520.6,204.3" stroke="#808080" stroke-width="1.20" fill="none"/>
<text x="524.7" y="94.4" font-size="13.10" font-weight="bold" fill="#000">C-C<tspan font-size="9.20" dy="3.0">arom.</tspan></text>
<text x="602.3" y="136.9" font-size="14.70" font-weight="bold" fill="#0066f2">C-N<tspan font-size="10.00" dy="3.4">arom.</tspan></text>
<path d="M640.2,144.3 L652.6,197.4" stroke="#0066f2" stroke-width="1.90" fill="none"/>
<text x="612.0" y="193.9" font-size="11.90" font-weight="bold" fill="#808080">C-O<tspan font-size="9.00" dy="2.4" font-style="italic">v</tspan></text>
<text x="653.0" y="113.2" font-size="13.30" font-weight="bold" fill="#808080">C-O-C<tspan font-size="9.80" dy="2.6" font-style="italic">va</tspan></text>
<path d="M672.2,116.3 L680.3,201.2" stroke="#808080" stroke-width="1.20" fill="none"/>
<text x="688.5" y="164.7" font-size="12.80" font-weight="bold" fill="#000">C-N<tspan font-size="9.50" dy="2.5" font-style="italic">v</tspan></text>
<path d="M701.9,170.9 L706.2,191.9" stroke="#000" stroke-width="1.70" fill="none"/>
<g clip-path="url(#cBL)">
<path d="M62.7,648.8 L64.6,647.5 L67.3,645.7 L70.0,643.5 L72.5,641.7 L75.2,640.0 L77.8,637.9 L79.8,636.6 L81.8,635.2 L83.8,633.7 L86.0,631.8 L88.4,630.3 L90.8,628.5 L93.3,627.3 L95.7,625.7 L97.8,623.9 L99.9,623.2 L101.9,621.9 L104.0,620.6 L106.3,619.5 L108.7,618.3 L111.2,617.4 L113.5,617.1 L116.4,616.4 L119.1,616.4 L122.0,616.3 L125.1,616.1 L128.3,616.4 L131.4,616.4 L134.4,616.6 L137.4,616.5 L140.0,616.7 L142.6,616.7 L145.6,617.2 L147.7,617.4 L150.2,617.8 L153.0,618.7 L155.6,619.3 L158.0,619.7 L161.3,620.5 L164.1,621.1 L167.0,621.9 L170.0,622.9 L173.0,623.6 L176.0,625.0 L179.0,625.6 L181.9,626.8 L184.9,627.3 L187.9,628.4 L191.0,629.1 L194.0,629.2 L196.9,629.9 L199.8,630.9 L202.7,631.0 L205.8,631.3 L208.9,630.7 L212.0,630.2 L214.9,630.4 L217.8,630.3 L220.6,630.0 L223.4,630.1 L226.2,630.5 L229.0,631.3 L231.9,631.7 L234.9,631.8 L237.5,631.8 L240.5,631.4 L243.1,628.0 L243.7,626.8 L244.4,624.3 L245.1,622.1 L245.7,619.4 L246.4,616.5 L247.0,613.9 L247.7,610.7 L248.3,608.3 L248.8,605.5 L249.4,602.9 L249.9,599.9 L250.4,597.0 L250.8,594.6 L251.3,591.8 L251.7,589.0 L252.1,587.2 L252.5,584.9 L254.0,580.2 L255.4,579.6 L256.1,581.0 L256.8,583.5 L257.4,587.5 L258.2,590.5 L258.8,593.0 L259.4,596.2 L260.1,599.0 L260.8,601.8 L261.4,603.9 L261.9,605.5 L263.8,602.9 L265.7,604.6 L268.0,603.1 L271.3,600.9 L274.2,600.9 L277.6,601.6 L280.7,601.0 L282.8,599.5 L284.8,597.5 L286.6,595.1 L288.2,594.3 L289.8,596.2 L290.9,599.1 L292.0,601.8 L292.9,604.6 L293.8,607.9 L294.8,610.7 L296.2,612.4 L297.8,614.6 L299.5,616.3 L301.2,617.5 L302.9,618.6 L305.1,620.6 L306.4,622.3 L307.8,625.0 L309.3,627.0 L310.9,629.8 L312.7,631.8 L314.5,634.1 L316.5,635.6 L318.6,636.9 L320.8,638.1 L323.0,639.6 L325.4,640.2 L327.7,641.2 L330.1,642.2 L332.4,642.9 L334.8,643.2 L337.4,643.3 L340.0,644.0 L342.7,644.0 L345.2,644.3 L347.8,644.8 L350.5,645.2 L353.3,645.3 L356.0,645.8 L358.8,646.4 L361.5,647.0 L363.9,647.4 L366.3,648.1 L368.7,649.2 L371.1,650.0 L373.5,650.5 L375.8,651.3 L378.0,652.0 L380.2,652.5 L383.0,653.4 L385.7,654.4 L388.3,656.0 L390.8,656.8 L393.1,657.9 L395.3,658.0 L398.3,659.1 L401.1,659.5 L403.4,659.9 L405.0,659.9" fill="none" stroke="#000" stroke-width="1.30" stroke-linejoin="round" stroke-linecap="round"/>
<path d="M62.7,644.4 L64.6,643.3 L67.3,641.3 L70.0,638.4 L72.5,636.4 L75.2,635.3 L77.8,633.3 L79.8,632.8 L81.8,631.1 L83.8,629.3 L86.0,627.6 L87.9,626.4 L89.8,624.0 L91.8,623.1 L93.8,621.1 L95.7,621.0 L97.8,617.8 L99.9,617.4 L101.9,614.4 L104.0,613.8 L106.3,611.5 L108.7,610.0 L111.2,609.1 L113.5,606.0 L115.7,604.6 L117.8,604.6 L119.8,602.4 L122.0,600.3 L124.3,600.6 L126.7,599.2 L129.1,596.5 L131.4,596.1 L134.4,594.3 L137.4,593.5 L140.3,593.7 L142.5,593.3 L144.8,595.1 L147.0,595.1 L149.2,596.5 L151.4,598.9 L153.6,599.5 L155.8,601.0 L158.0,602.7 L160.2,603.8 L162.5,604.9 L164.7,605.6 L167.0,608.2 L169.3,610.1 L171.5,611.5 L173.8,612.4 L176.0,613.2 L178.2,614.6 L180.4,616.5 L182.7,617.7 L184.9,617.8 L187.2,619.0 L189.5,620.1 L191.7,621.2 L194.0,622.6 L196.9,623.0 L199.8,623.1 L202.7,625.3 L205.8,625.0 L208.9,625.4 L212.0,625.0 L214.9,625.3 L217.8,625.1 L220.6,625.8 L223.4,625.0 L226.3,626.4 L229.0,626.4 L231.6,628.3 L234.1,628.2 L236.6,628.8 L239.1,628.3 L241.6,627.4 L243.8,623.1 L244.5,622.1 L245.1,619.4 L245.7,617.0 L246.2,614.7 L246.8,612.7 L247.3,609.1 L247.8,607.3 L248.3,603.5 L248.8,602.8 L249.8,598.1 L250.8,594.8 L251.7,593.3 L252.5,591.4 L254.0,585.6 L255.4,584.7 L256.1,587.4 L256.8,589.8 L257.4,593.2 L258.2,595.4 L259.9,598.4 L261.9,600.3 L263.5,599.4 L265.1,596.8 L266.6,594.5 L267.8,595.9 L269.4,599.8 L271.7,602.1 L274.4,603.4 L277.0,604.2 L279.9,604.9 L282.6,605.7 L284.5,603.9 L286.5,601.5 L288.2,599.7 L289.6,602.4 L290.8,605.2 L292.0,607.0 L292.8,609.4 L293.5,612.9 L294.4,614.2 L295.7,617.8 L297.2,618.9 L299.0,621.1 L301.1,623.0 L303.1,624.0 L305.1,626.0 L306.9,627.9 L308.7,630.7 L310.5,632.7 L312.4,633.5 L314.5,636.5 L316.9,637.1 L319.4,638.0 L322.1,639.4 L324.9,641.4 L327.7,641.5 L330.1,642.3 L332.4,643.3 L334.8,643.8 L337.4,643.8 L340.0,643.6 L342.7,644.4 L345.2,645.3 L347.8,645.5 L350.5,645.5 L353.3,645.5 L356.0,645.9 L358.8,647.0 L361.5,647.1 L364.2,646.6 L366.8,648.4 L369.5,649.2 L372.2,649.6 L374.9,650.3 L377.5,650.9 L380.2,650.9 L382.5,651.9 L384.9,651.7 L387.2,651.9 L389.6,652.9 L391.9,653.5 L394.3,655.2 L396.6,655.3 L399.0,655.6 L401.8,656.2 L404.7,655.8 L407.7,657.0 L410.6,657.7 L413.3,657.5 L415.8,657.6 L417.8,658.1 L422.1,658.5 L424.0,659.3" fill="none" stroke="#8000e0" stroke-width="2.20" stroke-linejoin="round" stroke-linecap="round"/>
<path d="M62.7,654.8 L64.6,654.0 L67.3,652.1 L70.0,650.4 L71.9,648.3 L73.8,646.9 L75.8,645.4 L77.8,644.1 L79.8,643.2 L81.8,641.0 L83.8,640.0 L86.0,638.2 L88.4,636.8 L90.8,635.5 L93.3,634.6 L95.7,632.9 L97.8,630.9 L99.9,629.9 L101.9,628.4 L104.0,627.9 L106.3,626.5 L108.7,625.1 L111.2,623.7 L113.5,622.4 L116.4,621.3 L119.1,619.9 L122.0,618.2 L124.3,618.1 L126.7,616.9 L129.1,616.6 L131.4,615.9 L134.4,615.4 L137.4,615.3 L140.3,615.7 L143.3,616.2 L146.2,617.0 L149.2,618.9 L152.1,620.0 L155.1,621.4 L158.0,622.2 L160.2,623.0 L162.5,624.1 L164.7,624.3 L167.0,625.8 L169.3,626.4 L171.5,627.0 L173.8,627.9 L176.0,629.2 L178.2,629.8 L180.4,631.0 L182.7,632.1 L184.9,632.7 L187.9,633.3 L191.0,634.6 L194.0,635.2 L196.9,636.2 L199.8,637.1 L202.7,637.9 L205.8,637.8 L208.9,638.4 L212.0,638.6 L214.9,637.9 L217.8,638.2 L220.6,638.6 L223.4,638.1 L226.3,638.9 L229.0,640.4 L231.6,641.2 L234.2,641.7 L236.6,641.3 L238.9,641.2 L241.0,640.8 L243.1,638.2 L243.9,636.4 L244.6,633.6 L245.3,632.1 L246.0,629.0 L246.7,626.7 L247.4,623.4 L248.1,621.8 L248.8,619.0 L249.6,616.5 L250.5,613.0 L251.3,610.7 L252.1,607.9 L252.9,605.5 L253.7,603.2 L254.4,602.3 L258.2,603.8 L261.9,601.8 L262.6,599.5 L263.5,597.1 L264.3,593.0 L265.1,589.9 L265.9,587.4 L266.6,587.2 L267.1,587.9 L267.5,590.0 L267.8,592.4 L268.2,596.2 L268.7,599.3 L269.4,601.5 L270.6,603.7 L272.2,606.9 L273.9,607.6 L275.5,609.5 L277.0,611.1 L279.0,614.8 L280.8,617.2 L282.6,618.9 L284.0,617.0 L285.4,614.0 L286.8,609.8 L288.2,609.3 L289.0,610.6 L289.6,613.1 L290.3,615.1 L291.0,618.0 L291.8,621.3 L292.7,623.7 L293.8,625.8 L295.1,628.5 L296.7,631.1 L298.3,632.9 L300.1,634.2 L301.8,636.5 L303.5,638.4 L305.1,639.2 L307.0,641.5 L308.8,642.9 L310.6,644.2 L312.4,645.5 L314.5,646.6 L316.9,648.0 L319.4,648.6 L322.1,650.0 L324.9,650.4 L327.7,652.0 L330.1,652.4 L332.4,652.2 L334.8,653.5 L337.4,653.3 L340.0,654.1 L342.7,654.7 L345.3,654.9 L348.1,655.4 L351.0,656.2 L354.0,656.4 L356.8,657.8 L359.3,657.4 L361.5,658.7 L365.4,658.7 L368.2,659.4 L370.0,659.9" fill="none" stroke="#00b0a8" stroke-width="2.20" stroke-linejoin="round" stroke-linecap="round"/>
<path d="M62.7,657.4 L64.6,656.6 L67.3,654.6 L70.0,652.9 L72.5,650.5 L75.2,648.6 L77.8,647.2 L79.8,645.7 L81.8,643.9 L83.8,642.7 L86.0,640.9 L88.4,639.7 L90.8,637.5 L93.3,635.9 L95.7,635.0 L97.8,632.8 L99.9,631.1 L101.9,630.0 L104.0,628.1 L106.3,625.9 L108.7,624.6 L111.2,623.0 L113.5,620.9 L115.7,619.8 L117.8,617.8 L119.8,616.6 L122.0,615.1 L124.3,614.0 L126.7,613.7 L129.1,612.1 L131.4,611.9 L134.4,610.4 L137.4,609.9 L140.3,610.0 L143.3,610.3 L146.2,610.8 L149.2,612.4 L152.1,613.4 L155.1,614.0 L158.0,615.1 L160.2,616.8 L162.5,617.3 L164.7,618.0 L167.0,619.4 L169.3,620.3 L171.5,622.2 L173.8,623.2 L176.0,624.1 L178.2,626.0 L180.4,626.5 L182.7,627.9 L184.9,628.7 L187.2,630.5 L189.5,630.8 L191.7,632.1 L194.0,632.6 L196.9,634.2 L199.8,635.6 L202.7,636.3 L205.8,636.8 L208.9,637.2 L212.0,637.4 L214.9,637.8 L217.8,637.5 L220.6,638.1 L223.4,638.1 L226.3,639.1 L229.0,639.4 L231.6,639.1 L234.2,639.6 L236.6,640.1 L238.9,639.4 L241.0,637.7 L243.1,636.0 L244.1,634.3 L245.1,631.4 L246.0,628.5 L246.9,625.9 L247.9,623.6 L248.8,620.6 L250.2,617.4 L251.7,614.2 L253.1,612.1 L254.4,610.4 L258.2,613.0 L260.0,615.4 L261.9,616.5 L264.2,615.0 L266.6,613.7 L268.7,613.4 L271.3,614.9 L272.9,617.1 L274.8,618.8 L276.9,621.1 L278.9,622.9 L280.7,624.1 L283.4,623.5 L285.9,621.3 L288.2,621.2 L289.6,622.0 L290.8,624.4 L292.0,627.6 L293.8,630.5 L295.4,631.5 L297.2,633.5 L299.2,634.7 L301.3,636.5 L303.3,638.1 L305.1,639.9 L307.0,641.6 L308.8,643.2 L310.6,645.3 L312.4,646.4 L314.5,647.9 L316.9,649.7 L319.4,650.3 L322.1,651.4 L324.9,651.8 L327.7,653.1 L330.1,653.4 L332.4,653.5 L334.8,654.7 L337.4,654.6 L340.0,654.9 L342.7,655.3 L345.3,655.5 L348.1,656.0 L351.0,656.9 L354.0,656.8 L356.8,657.3 L359.3,657.9 L361.5,658.3 L365.4,658.9 L368.2,659.9 L370.0,659.8" fill="none" stroke="#ffd400" stroke-width="2.20" stroke-linejoin="round" stroke-linecap="round"/>
<path d="M62.7,652.9 L64.6,650.5 L67.3,649.2 L70.0,646.7 L72.5,645.8 L75.2,643.1 L77.8,642.1 L79.8,640.2 L81.8,638.6 L83.8,636.8 L86.0,634.2 L87.9,632.9 L89.8,631.9 L91.8,630.0 L93.8,628.6 L95.7,627.1 L97.8,625.9 L99.9,624.1 L101.9,622.1 L104.0,619.7 L106.3,618.6 L108.7,616.4 L111.2,614.4 L113.5,613.1 L115.7,611.7 L117.8,610.2 L119.8,609.6 L122.0,608.4 L124.3,607.6 L126.7,607.0 L129.1,605.9 L131.4,605.0 L134.4,604.7 L137.4,604.3 L140.3,603.9 L142.5,605.0 L144.8,605.0 L147.0,606.3 L149.2,607.5 L151.4,609.3 L153.6,610.0 L155.8,611.1 L158.0,611.8 L160.2,613.1 L162.5,614.7 L164.7,615.1 L167.0,616.3 L169.3,617.3 L171.5,618.8 L173.8,620.3 L176.0,621.1 L178.2,622.0 L180.4,623.3 L182.7,624.2 L184.9,626.0 L187.2,626.5 L189.5,627.4 L191.7,628.4 L194.0,629.8 L196.9,630.5 L199.8,632.3 L202.7,632.6 L205.8,633.3 L208.9,633.3 L212.0,634.4 L214.9,634.5 L217.8,634.3 L220.6,634.2 L223.4,635.0 L226.3,635.4 L229.0,636.3 L231.6,637.0 L234.2,637.4 L236.6,637.0 L238.9,636.5 L241.0,636.7 L243.1,634.3 L243.9,632.0 L244.6,630.3 L245.3,628.0 L246.0,625.9 L246.7,622.4 L247.4,619.7 L248.1,617.9 L248.8,615.2 L249.5,612.5 L250.2,610.1 L251.0,607.1 L251.7,604.4 L252.4,601.3 L253.1,598.9 L253.8,597.0 L254.4,596.1 L256.4,597.6 L258.2,601.9 L259.4,605.0 L260.6,608.7 L261.9,610.6 L263.5,609.1 L265.1,605.8 L266.6,604.2 L269.4,606.0 L271.7,607.8 L274.4,609.9 L277.0,610.9 L279.9,614.2 L282.6,614.9 L284.5,612.8 L286.3,609.6 L288.2,608.1 L289.1,609.4 L289.9,612.1 L290.6,614.0 L291.5,617.5 L292.5,620.1 L293.8,622.4 L295.1,624.6 L296.7,627.1 L298.3,629.6 L300.1,631.5 L301.8,633.4 L303.5,635.6 L305.1,638.1 L307.0,640.1 L308.8,641.3 L310.6,643.7 L312.4,644.8 L314.5,645.9 L316.9,647.7 L319.4,648.0 L322.1,648.8 L324.9,649.9 L327.7,651.0 L330.1,651.4 L332.4,651.8 L334.8,652.7 L337.4,652.6 L340.0,653.4 L342.7,653.1 L345.2,654.4 L347.9,654.3 L350.8,655.4 L353.6,656.1 L356.4,656.5 L359.1,657.0 L361.5,657.5 L364.8,658.3 L367.9,658.5 L370.8,658.9 L373.2,659.7 L375.0,660.0" fill="none" stroke="#ff8a00" stroke-width="2.20" stroke-linejoin="round" stroke-linecap="round"/>
</g>
<g clip-path="url(#cBR)">
<path d="M451.6,660.0 C451.7,660.0 451.3,663.3 452.0,659.7 C452.7,656.1 454.6,646.1 455.6,638.5 C456.6,630.9 457.3,619.2 458.2,613.9 C459.1,608.6 460.1,609.8 460.8,606.9 C461.5,604.0 462.0,599.4 462.6,596.3 C463.2,593.2 463.7,589.1 464.4,588.4 C465.1,587.7 466.0,594.1 467.0,591.9 C468.0,589.7 469.5,579.3 470.5,575.2 C471.5,571.1 472.1,570.8 472.8,567.3 C473.5,563.8 474.2,558.6 474.9,554.1 C475.5,549.6 475.9,546.5 476.7,540.0 C477.5,533.5 478.5,523.3 479.5,515.0 C480.5,506.7 481.8,497.8 482.9,490.0 C484.0,482.2 485.2,472.5 486.0,468.0 C486.8,463.5 487.3,463.0 487.9,463.0 C488.5,463.0 488.8,464.5 489.5,468.0 C490.2,471.5 490.9,477.3 491.9,483.9 C492.9,490.5 494.2,500.5 495.3,507.5 C496.4,514.5 497.5,523.5 498.3,526.0 C499.1,528.5 499.5,525.1 500.4,522.6 C501.3,520.1 502.6,515.0 503.7,510.8 C504.8,506.6 505.9,497.3 506.8,497.3 C507.7,497.3 508.1,504.6 508.8,510.8 C509.6,517.0 510.5,529.5 511.3,534.5 C512.1,539.5 512.6,537.2 513.4,541.1 C514.2,545.0 515.1,552.5 516.0,558.0 C516.9,563.5 517.7,570.1 518.7,573.8 C519.7,577.5 521.1,576.9 521.9,580.1 C522.7,583.3 522.9,588.9 523.5,592.8 C524.1,596.7 524.9,602.5 525.6,603.3 C526.3,604.1 527.1,598.7 527.7,597.5 C528.3,596.3 528.8,595.8 529.3,595.9 C529.8,596.0 530.4,599.4 530.9,598.0 C531.4,596.6 531.9,591.9 532.4,587.5 C532.9,583.1 533.5,578.7 534.0,571.7 C534.5,564.7 535.2,555.0 535.6,545.3 C536.0,535.6 535.6,522.1 536.1,513.3 C536.6,504.4 537.7,493.1 538.6,492.2 C539.5,491.3 540.2,498.2 541.4,508.0 C542.6,517.8 544.4,540.5 545.6,551.2 C546.8,561.9 547.5,574.4 548.7,572.3 C549.9,570.2 551.6,549.3 553.0,538.6 C554.4,527.9 556.0,511.2 557.2,508.0 C558.4,504.8 559.2,517.0 560.3,519.6 C561.3,522.2 562.4,522.8 563.5,523.8 C564.6,524.8 565.5,523.1 566.7,525.9 C567.9,528.7 569.5,536.0 570.9,540.7 C572.3,545.4 573.8,550.6 575.0,554.3 C576.2,558.0 577.2,561.4 578.2,562.8 C579.2,564.2 580.2,564.2 581.3,562.8 C582.3,561.4 583.4,558.5 584.5,554.3 C585.6,550.1 586.7,540.5 587.7,537.5 C588.8,534.5 589.6,536.4 590.8,536.4 C592.0,536.4 593.8,537.0 595.0,537.5 C596.2,538.0 597.0,539.1 598.2,539.6 C599.4,540.1 601.0,539.9 602.4,540.6 C603.8,541.3 605.2,542.9 606.6,543.8 C608.0,544.7 609.2,545.5 610.8,545.9 C612.4,546.2 614.5,546.4 616.1,545.9 C617.7,545.4 618.9,544.5 620.3,542.7 C621.7,541.0 623.1,537.1 624.5,535.4 C625.9,533.6 627.4,532.6 628.8,532.2 C630.2,531.9 631.6,532.9 633.0,533.3 C634.4,533.6 636.0,534.8 637.2,534.3 C638.4,533.8 639.1,531.7 640.4,530.1 C641.7,528.5 643.1,526.7 644.9,524.5 C646.7,522.3 649.5,517.7 651.1,517.1 C652.8,516.5 653.6,518.3 654.8,520.8 C656.0,523.3 657.1,525.5 658.5,531.9 C659.9,538.3 661.8,550.4 663.4,559.0 C665.0,567.6 666.6,575.8 668.3,583.6 C669.9,591.4 671.8,601.7 673.3,605.8 C674.8,609.9 675.8,610.3 677.0,608.3 C678.2,606.2 679.4,598.2 680.7,593.5 C682.1,588.8 683.9,581.1 685.1,579.9 C686.3,578.7 686.9,583.4 688.0,586.1 C689.1,588.8 690.5,595.1 691.7,595.9 C692.9,596.7 694.2,591.6 695.4,591.0 C696.6,590.4 697.7,592.8 699.1,592.2 C700.5,591.6 702.4,585.8 703.6,587.3 C704.8,588.8 705.4,596.2 706.5,600.9 C707.6,605.6 709.0,611.9 710.2,615.6 C711.4,619.3 712.9,622.0 713.9,623.0 C714.9,624.0 715.7,620.6 716.4,621.8 C717.1,623.0 717.5,624.4 718.3,630.4 C719.1,636.4 720.7,652.6 721.3,657.5 C721.9,662.4 721.9,659.6 722.0,660.0" fill="none" stroke="#000" stroke-width="1.30" stroke-linejoin="round" stroke-linecap="round"/>
<path d="M453.5,660.0 C453.8,659.2 454.1,658.9 455.0,655.0 C455.9,651.1 457.7,642.5 459.1,636.8 C460.5,631.1 462.3,624.1 463.5,621.0 C464.7,617.9 465.1,621.5 466.1,618.3 C467.1,615.1 468.4,608.8 469.6,601.6 C470.8,594.4 472.3,582.5 473.2,575.2 C474.1,567.9 474.0,567.9 475.1,558.0 C476.2,548.1 478.6,528.5 480.1,515.9 C481.6,503.3 483.2,490.9 484.3,482.2 C485.4,473.5 486.1,467.9 486.9,463.6 C487.7,459.3 488.2,456.8 488.9,456.5 C489.6,456.2 490.2,457.9 491.1,461.9 C492.0,465.9 493.4,474.6 494.5,480.5 C495.6,486.4 496.6,493.1 497.8,497.3 C499.1,501.5 500.9,504.0 502.0,505.8 C503.1,507.6 503.8,506.9 504.6,508.3 C505.5,509.7 506.1,510.1 507.1,514.2 C508.1,518.3 509.4,527.2 510.5,532.8 C511.6,538.4 512.8,543.8 513.9,548.0 C515.0,552.2 516.1,554.9 517.2,558.0 C518.4,561.1 519.6,564.3 520.8,566.4 C522.0,568.5 523.3,571.0 524.5,570.6 C525.7,570.2 527.1,567.3 528.2,564.3 C529.4,561.3 530.6,555.9 531.4,552.7 C532.2,549.5 532.5,549.4 533.0,545.3 C533.5,541.2 533.8,535.1 534.5,528.0 C535.2,520.9 536.4,509.7 537.1,502.7 C537.8,495.7 538.1,486.9 538.6,485.8 C539.1,484.8 539.7,489.0 540.3,496.4 C540.9,503.8 541.5,519.6 542.4,530.1 C543.3,540.6 544.5,552.2 545.6,559.6 C546.7,567.0 547.7,573.3 548.7,574.4 C549.8,575.5 550.8,572.0 551.9,566.0 C553.0,560.0 554.2,545.6 555.1,538.6 C556.0,531.6 556.3,525.6 557.2,523.8 C558.1,522.0 559.2,526.2 560.3,528.0 C561.3,529.8 562.4,533.1 563.5,534.3 C564.6,535.5 565.5,533.3 566.7,535.4 C567.9,537.5 569.5,542.4 570.9,547.0 C572.3,551.6 573.8,559.5 575.0,562.8 C576.2,566.1 577.2,567.0 578.2,567.0 C579.2,567.0 580.1,565.3 581.3,562.8 C582.5,560.3 584.1,554.5 585.5,552.2 C586.9,549.9 588.4,549.1 589.8,549.1 C591.2,549.1 592.6,551.5 594.0,552.2 C595.4,552.9 596.5,552.6 598.2,553.3 C600.0,554.0 602.4,555.3 604.5,556.4 C606.6,557.5 608.9,558.9 610.8,559.6 C612.7,560.3 614.5,561.2 616.1,560.7 C617.7,560.2 618.7,557.6 620.3,556.4 C621.9,555.2 623.7,554.2 625.6,553.3 C627.5,552.4 630.0,552.1 631.9,551.2 C633.8,550.3 635.6,549.2 637.2,548.0 C638.8,546.8 640.1,544.1 641.4,543.8 C642.7,543.4 643.4,545.4 645.0,545.9 C646.6,546.4 649.3,545.8 651.1,546.7 C652.9,547.7 654.4,547.9 656.0,551.6 C657.6,555.3 659.0,561.8 660.9,568.8 C662.8,575.8 665.0,585.7 667.1,593.5 C669.2,601.3 671.4,613.1 673.3,615.6 C675.1,618.1 676.4,612.0 678.2,608.3 C680.0,604.6 682.4,594.1 684.3,593.5 C686.1,592.9 687.6,602.8 689.3,604.6 C690.9,606.5 692.4,604.8 694.2,604.6 C696.1,604.4 698.8,603.1 700.4,603.3 C702.0,603.5 702.7,602.5 704.1,605.8 C705.5,609.1 707.4,618.9 709.0,623.0 C710.6,627.1 712.3,627.9 713.9,630.4 C715.5,632.9 717.5,633.4 718.8,637.8 C720.1,642.2 721.0,653.3 721.5,657.0 C722.0,660.7 721.9,659.5 722.0,660.0" fill="none" stroke="#8000e0" stroke-width="2.20" stroke-linejoin="round" stroke-linecap="round"/>
<path d="M453.8,660.0 C454.4,655.8 456.1,640.8 457.3,635.0 C458.5,629.2 459.8,627.9 461.0,625.0 C462.2,622.1 463.5,618.4 464.4,617.4 C465.3,616.4 465.6,621.1 466.5,619.0 C467.4,616.9 468.8,611.1 470.0,605.0 C471.2,598.9 472.8,591.4 474.0,582.2 C475.2,573.0 475.7,559.6 477.0,550.0 C478.3,540.4 480.3,534.5 481.8,524.3 C483.3,514.1 484.8,498.7 486.0,488.9 C487.2,479.1 487.9,467.3 488.9,465.3 C489.9,463.3 490.8,471.8 491.9,477.1 C493.0,482.4 494.2,491.4 495.3,497.3 C496.4,503.2 497.7,509.5 498.7,512.5 C499.7,515.5 500.2,515.4 501.2,515.1 C502.2,514.8 503.6,510.9 504.6,510.8 C505.6,510.7 506.1,510.6 507.1,514.5 C508.1,518.5 509.4,529.4 510.5,534.5 C511.6,539.6 512.8,541.4 513.9,545.0 C515.0,548.6 516.1,553.1 517.2,556.0 C518.4,558.9 519.9,560.3 520.8,562.2 C521.7,564.1 521.8,564.6 522.4,567.4 C523.0,570.2 523.9,576.4 524.5,579.0 C525.1,581.6 525.6,583.6 526.1,583.3 C526.6,582.9 527.1,578.8 527.7,576.9 C528.3,575.0 529.3,572.1 529.8,571.7 C530.3,571.4 530.4,576.0 530.9,574.8 C531.4,573.6 532.5,568.3 533.0,564.3 C533.5,560.3 533.5,558.4 534.0,550.6 C534.5,542.8 535.3,525.8 536.1,517.5 C536.9,509.2 537.7,501.2 538.6,500.6 C539.5,500.0 540.2,504.8 541.4,514.0 C542.6,523.2 544.2,545.9 545.6,556.0 C547.0,566.1 548.4,576.2 549.8,574.4 C551.2,572.6 552.8,553.4 554.0,545.0 C555.2,536.6 556.2,525.6 557.2,523.8 C558.2,522.0 559.1,531.5 560.3,534.0 C561.5,536.5 563.2,537.1 564.5,538.6 C565.8,540.1 566.4,539.1 568.0,543.0 C569.6,546.9 572.3,556.0 574.0,561.7 C575.7,567.5 577.0,575.6 578.2,577.5 C579.4,579.4 580.1,575.8 581.3,573.0 C582.5,570.2 584.1,563.1 585.5,560.7 C586.9,558.3 588.4,558.1 589.8,558.5 C591.2,558.9 592.2,561.9 594.0,562.8 C595.8,563.7 597.8,563.3 600.3,563.8 C602.8,564.3 606.1,565.4 608.7,565.9 C611.3,566.4 614.2,567.5 616.1,567.0 C618.0,566.5 618.7,564.2 620.3,562.8 C621.9,561.4 623.7,559.9 625.6,558.5 C627.5,557.1 629.8,555.9 631.9,554.3 C634.0,552.7 636.7,550.9 638.3,549.1 C639.9,547.4 640.3,544.5 641.4,543.8 C642.5,543.1 643.4,545.1 645.0,545.0 C646.6,544.9 649.5,542.9 651.1,543.0 C652.7,543.1 653.6,543.5 654.8,545.4 C656.0,547.2 657.1,549.4 658.5,554.1 C659.9,558.8 661.8,567.2 663.4,573.8 C665.0,580.4 666.4,586.9 668.3,593.5 C670.1,600.1 672.9,610.3 674.5,613.2 C676.1,616.1 676.6,613.6 678.2,610.7 C679.8,607.8 682.7,597.1 684.3,595.9 C685.9,594.7 686.5,601.2 688.0,603.3 C689.5,605.4 691.4,607.3 693.0,608.3 C694.6,609.3 696.3,609.7 697.9,609.5 C699.5,609.3 701.4,606.4 702.8,607.0 C704.2,607.6 705.1,611.4 706.5,613.2 C707.9,615.1 710.0,618.1 711.4,618.1 C712.8,618.1 713.9,612.4 715.1,613.2 C716.3,614.0 717.7,618.1 718.8,623.0 C719.9,627.9 721.2,636.5 721.8,642.7 C722.4,648.9 722.4,657.1 722.5,660.0" fill="none" stroke="#00b0a8" stroke-width="2.20" stroke-linejoin="round" stroke-linecap="round"/>
<path d="M463.5,660.0 C463.6,659.1 463.8,655.6 464.4,654.4 C465.0,653.2 466.1,656.4 467.0,652.6 C467.9,648.8 468.6,639.4 469.6,631.5 C470.6,623.6 471.9,615.4 473.2,605.1 C474.5,594.8 476.5,578.8 477.6,569.9 C478.8,561.0 479.1,558.2 480.1,552.0 C481.1,545.8 482.5,539.7 483.5,532.8 C484.5,525.9 485.3,515.6 486.0,510.8 C486.7,506.0 487.1,504.9 487.7,504.1 C488.3,503.3 488.8,505.0 489.4,505.8 C490.0,506.6 490.5,509.5 491.1,509.2 C491.7,508.9 492.2,508.6 492.8,504.1 C493.4,499.6 493.9,490.1 494.5,482.2 C495.1,474.3 496.0,460.3 496.6,456.9 C497.2,453.5 497.7,457.7 498.3,461.9 C498.9,466.1 499.4,481.3 500.0,482.2 C500.6,483.1 501.4,469.8 502.0,467.0 C502.6,464.2 503.0,462.8 503.4,465.3 C503.8,467.8 504.1,475.2 504.6,482.2 C505.1,489.2 505.7,499.1 506.3,507.5 C506.9,515.9 507.3,526.0 508.0,532.8 C508.7,539.5 509.7,544.1 510.5,548.0 C511.3,551.9 512.2,554.2 513.0,556.4 C513.8,558.6 514.8,561.0 515.5,561.4 C516.2,561.8 516.8,562.4 517.5,559.0 C518.2,555.6 519.2,552.3 519.8,541.2 C520.4,530.1 520.8,500.7 521.3,492.2 C521.8,483.7 522.5,487.0 523.0,490.1 C523.5,493.2 523.9,503.7 524.5,511.1 C525.1,518.5 525.7,529.0 526.6,534.3 C527.5,539.6 528.8,540.7 529.8,542.8 C530.8,544.9 531.8,548.4 532.9,547.0 C534.0,545.6 535.1,540.3 536.1,534.3 C537.1,528.3 537.7,510.4 538.6,511.1 C539.5,511.8 540.4,529.1 541.4,538.6 C542.4,548.1 543.3,559.3 544.5,568.1 C545.7,576.9 547.3,590.2 548.7,591.3 C550.1,592.3 551.6,580.7 553.0,574.4 C554.4,568.1 556.0,555.8 557.2,553.3 C558.4,550.8 559.2,559.6 560.3,559.6 C561.3,559.6 562.5,553.2 563.5,553.3 C564.5,553.4 565.3,556.5 566.5,560.0 C567.7,563.5 569.3,569.9 570.9,574.4 C572.5,578.9 574.9,584.0 576.1,587.0 C577.3,590.0 577.0,592.1 578.2,592.3 C579.4,592.5 581.8,588.8 583.4,588.1 C585.0,587.4 586.5,587.8 587.7,588.1 C588.9,588.5 589.9,591.3 590.8,590.2 C591.7,589.1 592.3,584.9 592.9,581.7 C593.5,578.5 593.9,571.6 594.4,571.2 C594.9,570.9 595.5,576.8 596.1,579.6 C596.7,582.4 597.2,585.6 598.2,588.1 C599.2,590.6 601.0,592.6 602.4,594.4 C603.8,596.1 605.2,597.4 606.6,598.6 C608.0,599.8 609.6,600.8 610.8,601.8 C612.0,602.8 613.1,604.2 614.0,604.9 C614.9,605.6 615.4,607.8 616.1,606.0 C616.8,604.2 617.5,601.2 618.2,594.4 C618.9,587.5 619.6,576.8 620.3,564.9 C621.0,553.0 621.7,536.4 622.4,522.7 C623.1,509.0 623.9,490.1 624.5,482.7 C625.1,475.3 625.5,477.0 626.0,478.4 C626.5,479.8 627.1,482.0 627.7,491.1 C628.3,500.2 628.9,521.0 629.8,533.3 C630.7,545.6 632.0,558.2 633.0,564.9 C634.0,571.6 634.9,571.2 636.1,573.3 C637.3,575.4 639.1,576.2 640.4,577.5 C641.7,578.8 642.3,579.6 643.7,581.2 C645.1,582.8 647.0,585.7 648.6,587.3 C650.2,588.9 652.3,592.6 653.5,591.0 C654.7,589.4 655.3,579.8 656.0,577.5 C656.7,575.2 657.1,574.0 657.7,577.5 C658.3,581.0 658.8,591.6 659.7,598.4 C660.7,605.2 662.0,612.1 663.4,618.1 C664.8,624.1 666.6,630.8 668.3,634.1 C669.9,637.4 671.9,638.0 673.3,637.8 C674.7,637.6 675.7,641.9 676.5,632.9 C677.3,623.9 677.6,599.2 678.2,583.6 C678.8,568.0 679.4,550.6 679.9,539.3 C680.4,528.0 680.9,516.7 681.4,515.9 C681.9,515.1 682.1,523.0 682.6,534.3 C683.1,545.6 683.8,571.3 684.3,583.6 C684.8,595.9 684.8,602.5 685.6,608.3 C686.4,614.0 687.4,615.9 689.3,618.1 C691.1,620.4 694.2,620.8 696.7,621.8 C699.2,622.8 702.1,623.1 704.1,624.3 C706.1,625.5 707.4,627.4 709.0,629.2 C710.6,631.1 712.5,635.2 713.9,635.4 C715.3,635.6 716.5,628.3 717.6,630.4 C718.8,632.5 720.1,642.8 720.8,647.7 C721.4,652.6 721.4,658.0 721.5,660.0" fill="none" stroke="#ffd400" stroke-width="2.20" stroke-linejoin="round" stroke-linecap="round"/>
<path d="M453.8,660.0 C454.1,658.7 454.6,655.9 455.5,652.0 C456.4,648.1 457.8,642.0 459.1,636.8 C460.4,631.6 462.3,624.1 463.5,621.0 C464.7,617.9 465.1,621.5 466.1,618.3 C467.1,615.1 468.4,608.8 469.6,601.6 C470.8,594.4 472.1,582.5 473.2,575.2 C474.2,567.9 474.8,567.0 475.9,558.0 C477.0,549.0 478.6,533.4 480.1,521.0 C481.7,508.6 483.7,493.9 485.2,483.9 C486.7,473.9 487.8,463.6 488.9,461.1 C490.0,458.6 490.8,464.4 491.9,468.7 C493.0,473.0 494.2,481.3 495.3,487.2 C496.4,493.1 497.6,499.6 498.7,504.1 C499.8,508.6 501.0,512.5 502.0,514.2 C503.0,515.9 503.8,513.9 504.6,514.2 C505.5,514.5 506.1,512.5 507.1,515.9 C508.1,519.3 509.4,529.1 510.5,534.5 C511.6,539.9 513.0,544.5 513.9,548.0 C514.8,551.5 514.6,552.4 515.6,555.8 C516.6,559.2 518.7,565.9 519.8,568.5 C520.9,571.1 521.6,570.1 522.4,571.7 C523.2,573.3 523.7,577.8 524.5,578.0 C525.3,578.2 526.3,573.9 527.2,572.7 C528.1,571.5 529.0,571.7 529.8,570.6 C530.6,569.5 531.3,569.7 531.9,566.4 C532.5,563.1 532.8,559.5 533.5,550.6 C534.2,541.8 535.2,522.2 536.1,513.3 C537.0,504.4 537.7,497.8 538.6,497.4 C539.5,497.0 540.2,501.4 541.4,511.1 C542.6,520.8 544.2,544.5 545.6,555.4 C547.0,566.3 548.4,577.9 549.8,576.5 C551.2,575.1 552.8,554.7 554.0,547.0 C555.2,539.3 556.2,532.2 557.2,530.1 C558.2,528.0 559.1,532.2 560.3,534.3 C561.5,536.4 563.3,541.0 564.5,542.8 C565.7,544.6 566.3,542.4 567.7,544.9 C569.1,547.4 571.2,552.8 573.0,557.5 C574.8,562.2 576.8,571.4 578.2,573.3 C579.6,575.2 580.1,571.3 581.3,569.0 C582.5,566.7 584.1,561.7 585.5,559.6 C586.9,557.5 588.4,556.6 589.8,556.4 C591.2,556.2 592.2,557.8 594.0,558.5 C595.8,559.2 597.8,560.0 600.3,560.7 C602.8,561.4 606.1,562.3 608.7,562.8 C611.3,563.3 614.2,564.1 616.1,563.8 C618.0,563.4 618.7,561.8 620.3,560.7 C621.9,559.7 623.7,558.2 625.6,557.5 C627.5,556.8 629.8,556.9 631.9,556.4 C634.0,555.9 636.1,554.6 638.3,554.3 C640.5,553.9 643.1,554.5 645.0,554.3 C646.9,554.0 648.3,552.4 649.9,552.8 C651.5,553.2 653.2,553.8 654.8,556.5 C656.4,559.2 658.1,563.5 659.7,568.8 C661.3,574.1 662.8,581.1 664.6,588.5 C666.5,595.9 668.9,607.2 670.8,613.2 C672.6,619.2 674.1,624.7 675.7,624.3 C677.4,623.9 679.1,615.0 680.7,610.7 C682.4,606.4 684.2,598.8 685.6,598.4 C687.0,598.0 687.9,605.8 689.3,608.3 C690.7,610.8 692.4,612.6 694.2,613.2 C696.1,613.8 698.5,611.8 700.4,612.0 C702.2,612.2 703.7,612.6 705.3,614.4 C706.9,616.2 708.8,621.1 710.2,623.0 C711.6,624.9 712.7,625.5 713.9,625.5 C715.1,625.5 716.6,622.6 717.6,623.0 C718.6,623.4 719.5,622.3 720.1,628.0 C720.8,633.7 721.2,651.7 721.5,657.0 C721.8,662.3 721.9,659.5 722.0,660.0" fill="none" stroke="#ff8a00" stroke-width="2.20" stroke-linejoin="round" stroke-linecap="round"/>
</g>
<text x="117.8" y="567.7" font-size="12.60" font-weight="bold" fill="#000">OH<tspan font-size="9.50" dy="2.5" font-style="italic">v</tspan></text>
<path d="M129.6,572.1 L134.0,586.7" stroke="#000" stroke-width="1.60" fill="none"/>
<text x="243.5" y="557.8" font-weight="bold" fill="#000"><tspan font-size="13.20" dy="-0.0">CH</tspan><tspan font-size="9.50" dy="2.8">3</tspan><tspan font-size="13.20" dy="-2.8">, CH</tspan><tspan font-size="9.50" dy="2.8">2</tspan></text>
<path d="M249.2,571.9 V565.9 H294.4 V571.9" fill="none" stroke="#000" stroke-width="1.7"/>
<text x="427.3" y="447.3" font-size="12.60" font-weight="bold" fill="#000">C=O<tspan font-size="9.50" dy="2.5" font-style="italic">v</tspan></text>
<path d="M463.0,442.3 L485.3,451.5" stroke="#000" stroke-width="1.60" fill="none"/>
<text x="449.6" y="428.4" font-size="13.10" font-weight="bold" fill="#000">C=C<tspan font-size="8.90" dy="3.0">arom.</tspan></text>
<path d="M489.9,437.2 L497.3,452.6" stroke="#000" stroke-width="1.60" fill="none"/>
<text x="509.6" y="411.7" font-size="12.00" font-weight="bold" fill="#808080">NH<tspan font-size="9.50" dy="2.2" font-style="italic">δ</tspan></text>
<path d="M519.3,416.3 L519.8,484.6" stroke="#808080" stroke-width="1.10" fill="none"/>
<text x="532.9" y="462.7" font-size="13.10" font-weight="bold" fill="#000">C-C<tspan font-size="9.20" dy="3.0">arom.</tspan></text>
<path d="M545.0,466.6 L537.9,481.3" stroke="#000" stroke-width="1.60" fill="none"/>
<text x="553.6" y="487.6" font-weight="bold" fill="#000"><tspan font-size="12.80" dy="-0.0">CH</tspan><tspan font-size="9.20" dy="2.8">3</tspan><tspan font-size="12.80" dy="-2.8">, CH</tspan><tspan font-size="9.20" dy="2.8">2</tspan></text>
<path d="M561.6,492.2 L557.8,503.2" stroke="#000" stroke-width="1.60" fill="none"/>
<text x="579.1" y="528.6" font-weight="bold" fill="#000"><tspan font-size="12.80" dy="-0.0">CH</tspan><tspan font-size="9.20" dy="2.8">3</tspan></text>
<text x="621.5" y="428.4" font-size="11.90" font-weight="bold" fill="#808080">C-O<tspan font-size="9.00" dy="2.4" font-style="italic">v</tspan></text>
<path d="M632.9,432.1 L625.3,471.7" stroke="#808080" stroke-width="1.10" fill="none"/>
<text x="644.6" y="465.5" font-size="14.70" font-weight="bold" fill="#0066f2">C-N<tspan font-size="10.00" dy="3.4">arom.</tspan></text>
<path d="M658.2,468.4 L650.6,509.7" stroke="#0066f2" stroke-width="1.90" fill="none"/>
<text x="661.5" y="511.7" font-size="13.30" font-weight="bold" fill="#808080">C-O-C<tspan font-size="9.80" dy="2.6" font-style="italic">va</tspan></text>
<text x="689.2" y="556.2" font-size="12.80" font-weight="bold" fill="#000">C-N<tspan font-size="9.50" dy="2.5" font-style="italic">v</tspan></text>
<path d="M702.8,561.4 L702.8,582.4" stroke="#000" stroke-width="1.70" fill="none"/>
<defs><clipPath id="sA1"><rect x="792.5" y="30.9" width="123.3" height="129.6"/></clipPath></defs>
<g clip-path="url(#sA1)">
<path d="M792.5,112.9 C793.5,112.1 796.4,109.8 798.5,108.2 C800.6,106.6 802.2,105.4 805.0,103.2 C807.8,101.0 811.8,97.5 815.0,94.9 C818.2,92.4 821.6,89.8 824.5,87.9 C827.4,86.0 830.5,84.4 832.5,83.7 C834.5,83.0 834.9,83.3 836.5,83.5 C838.1,83.7 839.7,84.8 842.0,84.9 C844.3,85.1 848.4,85.0 850.5,84.4 C852.6,83.8 853.2,82.7 854.5,81.4 C855.8,80.2 857.5,77.7 858.5,76.9 C859.5,76.1 859.8,76.0 860.5,76.4 C861.2,76.8 862.0,77.3 862.8,79.4 C863.6,81.5 864.4,84.8 865.5,88.9 C866.6,93.0 867.8,99.1 869.5,103.8 C871.2,108.5 873.6,112.8 876.0,116.9 C878.4,121.0 881.4,125.2 884.0,128.4 C886.6,131.6 889.1,134.0 891.5,135.9 C893.9,137.8 896.5,138.6 898.5,139.9 C900.5,141.2 901.8,142.1 903.5,143.9 C905.2,145.7 906.9,148.7 909.0,150.9 C911.1,153.1 914.8,155.9 915.9,156.9" fill="none" stroke="#000" stroke-width="2.00" stroke-linejoin="round" stroke-linecap="round"/>
<path d="M792.5,115.6 C794.5,114.1 801.0,109.3 804.7,106.7 C808.4,104.1 811.2,102.2 814.5,99.8 C817.8,97.4 821.4,94.1 824.4,92.4 C827.4,90.7 829.7,90.0 832.3,89.7 C834.9,89.4 838.2,90.1 840.2,90.4 C842.2,90.7 842.3,91.2 844.1,91.4 C845.9,91.6 849.2,92.0 851.0,91.5 C852.8,91.0 853.4,89.6 854.9,88.4 C856.4,87.2 858.6,84.3 859.9,84.1 C861.2,83.9 861.8,85.1 862.8,87.4 C863.8,89.7 864.6,94.2 865.7,97.9 C866.9,101.6 868.1,106.0 869.7,109.7 C871.4,113.4 873.3,116.7 875.6,120.1 C877.9,123.5 881.2,127.5 883.5,130.3 C885.8,133.2 887.1,135.4 889.4,137.2 C891.7,139.0 894.9,139.7 897.2,141.2 C899.5,142.7 900.8,143.3 903.1,146.1 C905.4,148.9 908.9,155.1 911.0,157.9 C913.1,160.7 915.1,162.1 915.9,162.9" fill="none" stroke="#cc90f8" stroke-width="1.60" stroke-linejoin="round" stroke-linecap="round"/>
<path d="M792.5,116.6 C794.5,115.1 801.0,110.3 804.7,107.7 C808.4,105.1 811.2,103.1 814.5,100.8 C817.8,98.5 821.4,95.5 824.4,93.9 C827.4,92.3 829.7,91.4 832.3,91.0 C834.9,90.6 838.2,91.3 840.2,91.6 C842.2,91.9 842.3,92.6 844.1,92.9 C845.9,93.2 849.2,93.8 851.0,93.5 C852.8,93.2 853.4,92.0 854.9,91.0 C856.4,90.0 858.6,87.8 859.9,87.6 C861.2,87.4 861.8,88.0 862.8,90.0 C863.8,92.0 864.6,96.2 865.7,99.8 C866.9,103.4 868.1,108.0 869.7,111.6 C871.4,115.2 873.3,118.2 875.6,121.5 C877.9,124.8 881.2,128.5 883.5,131.3 C885.8,134.1 887.1,136.4 889.4,138.2 C891.7,140.0 894.9,140.7 897.2,142.2 C899.5,143.7 900.8,144.3 903.1,147.1 C905.4,149.9 908.9,156.1 911.0,158.9 C913.1,161.7 915.1,163.1 915.9,163.9" fill="none" stroke="#7a00f5" stroke-width="2.00" stroke-linejoin="round" stroke-linecap="round"/>
</g>
<rect x="792.5" y="30.9" width="123.3" height="129.6" fill="none" stroke="#000" stroke-width="1.9"/>
<path d="M794.8,39.8 L818.1,39.8" stroke="#000" stroke-width="2.00" fill="none"/>
<text x="821.1" y="43.5" font-size="10.30" font-weight="bold" fill="#000" text-anchor="start">TbEP</text>
<path d="M794.8,52.8 L818.1,52.8" stroke="#7a00f5" stroke-width="2.00" fill="none"/>
<text x="821.1" y="56.5" font-size="10.30" font-weight="bold" fill="#000" text-anchor="start">ItL-03</text>
<path d="M794.8,65.8 L818.1,65.8" stroke="#cc90f8" stroke-width="1.60" fill="none"/>
<text x="821.1" y="69.5" font-size="10.30" font-weight="bold" fill="#000" text-anchor="start">Control</text>
<defs><clipPath id="sA2"><rect x="938.8" y="30.9" width="123.2" height="129.7"/></clipPath></defs>
<g clip-path="url(#sA2)">
<path d="M938.8,112.9 C939.8,112.1 942.7,109.8 944.8,108.2 C946.9,106.6 948.5,105.4 951.3,103.2 C954.0,101.0 958.0,97.5 961.3,94.9 C964.5,92.4 967.9,89.8 970.8,87.9 C973.7,86.0 976.8,84.4 978.8,83.7 C980.8,83.0 981.2,83.3 982.8,83.5 C984.4,83.7 986.0,84.8 988.3,84.9 C990.6,85.1 994.7,85.0 996.8,84.4 C998.9,83.8 999.5,82.7 1000.8,81.4 C1002.1,80.2 1003.8,77.7 1004.8,76.9 C1005.8,76.1 1006.1,76.0 1006.8,76.4 C1007.5,76.8 1008.3,77.3 1009.1,79.4 C1009.9,81.5 1010.7,84.8 1011.8,88.9 C1012.9,93.0 1014.0,99.1 1015.8,103.8 C1017.5,108.5 1019.9,112.8 1022.3,116.9 C1024.7,121.0 1027.7,125.2 1030.3,128.4 C1032.9,131.6 1035.4,134.0 1037.8,135.9 C1040.2,137.8 1042.8,138.6 1044.8,139.9 C1046.8,141.2 1048.0,142.1 1049.8,143.9 C1051.5,145.7 1053.2,148.7 1055.3,150.9 C1057.4,153.1 1061.0,155.9 1062.2,156.9" fill="none" stroke="#000" stroke-width="2.00" stroke-linejoin="round" stroke-linecap="round"/>
<path d="M938.8,116.6 C939.8,115.3 942.6,111.5 944.8,108.9 C946.9,106.3 949.9,103.5 951.7,100.9 C953.5,98.3 954.1,95.7 955.8,93.4 C957.4,91.1 959.0,88.6 961.6,87.1 C964.2,85.6 968.4,85.0 971.4,84.4 C974.4,83.8 976.7,83.1 979.3,83.4 C981.9,83.7 984.2,85.8 987.2,86.4 C990.1,87.0 994.5,87.4 997.0,87.1 C999.5,86.8 1000.5,85.6 1002.0,84.4 C1003.5,83.2 1004.8,80.5 1005.9,80.2 C1007.0,79.9 1007.7,80.5 1008.8,82.4 C1009.9,84.4 1011.4,88.5 1012.7,91.9 C1014.0,95.3 1014.9,99.6 1016.6,102.7 C1018.2,105.8 1020.3,107.4 1022.6,110.7 C1024.9,114.0 1027.9,119.2 1030.5,122.5 C1033.1,125.8 1035.8,128.1 1038.4,130.4 C1041.0,132.7 1043.7,134.2 1046.3,136.3 C1048.9,138.4 1051.6,141.1 1054.2,143.2 C1056.8,145.3 1060.7,148.1 1062.0,149.1" fill="none" stroke="#10d080" stroke-width="1.80" stroke-linejoin="round" stroke-linecap="round"/>
<path d="M938.8,113.7 C939.8,112.5 942.6,108.9 944.8,106.4 C946.9,103.9 949.9,101.3 951.7,98.9 C953.5,96.5 954.1,94.0 955.8,91.9 C957.4,89.8 959.0,87.6 961.6,86.1 C964.2,84.6 968.4,83.8 971.4,83.1 C974.4,82.4 976.7,81.4 979.3,81.7 C981.9,82.0 984.2,84.4 987.2,85.1 C990.1,85.8 994.5,86.2 997.0,85.7 C999.5,85.2 1000.5,83.5 1002.0,82.1 C1003.5,80.7 1004.8,77.5 1005.9,77.2 C1007.0,76.9 1007.7,78.1 1008.8,80.2 C1009.9,82.3 1011.4,86.1 1012.7,90.0 C1014.0,93.9 1014.9,100.2 1016.6,103.8 C1018.2,107.4 1020.3,108.4 1022.6,111.7 C1024.9,115.0 1027.9,120.0 1030.5,123.5 C1033.1,127.0 1035.8,129.9 1038.4,132.4 C1041.0,134.9 1043.7,136.2 1046.3,138.3 C1048.9,140.4 1051.6,143.1 1054.2,145.2 C1056.8,147.3 1060.7,150.1 1062.0,151.1" fill="none" stroke="#0a8a50" stroke-width="2.00" stroke-linejoin="round" stroke-linecap="round"/>
</g>
<rect x="938.8" y="30.9" width="123.2" height="129.7" fill="none" stroke="#000" stroke-width="1.9"/>
<path d="M941.1,39.8 L964.4,39.8" stroke="#000" stroke-width="2.00" fill="none"/>
<text x="967.4" y="43.5" font-size="10.30" font-weight="bold" fill="#000" text-anchor="start">TbEP</text>
<path d="M941.1,52.8 L964.4,52.8" stroke="#0a8a50" stroke-width="2.00" fill="none"/>
<text x="967.4" y="56.5" font-size="10.30" font-weight="bold" fill="#000" text-anchor="start">ItL-03 + ABTS</text>
<path d="M941.1,65.8 L964.4,65.8" stroke="#10d080" stroke-width="1.80" fill="none"/>
<text x="967.4" y="69.5" font-size="10.30" font-weight="bold" fill="#000" text-anchor="start">Control + ABTS</text>
<defs><clipPath id="sA3"><rect x="792.5" y="172.4" width="123.3" height="129.7"/></clipPath></defs>
<g clip-path="url(#sA3)">
<path d="M792.5,254.4 C793.5,253.6 796.4,251.3 798.5,249.7 C800.6,248.1 802.2,246.9 805.0,244.7 C807.8,242.5 811.8,238.9 815.0,236.4 C818.2,233.9 821.6,231.3 824.5,229.4 C827.4,227.5 830.5,225.9 832.5,225.2 C834.5,224.5 834.9,224.8 836.5,225.0 C838.1,225.2 839.7,226.2 842.0,226.4 C844.3,226.6 848.4,226.5 850.5,225.9 C852.6,225.3 853.2,224.2 854.5,222.9 C855.8,221.7 857.5,219.2 858.5,218.4 C859.5,217.6 859.8,217.5 860.5,217.9 C861.2,218.3 862.0,218.8 862.8,220.9 C863.6,223.0 864.4,226.3 865.5,230.4 C866.6,234.5 867.8,240.6 869.5,245.3 C871.2,250.0 873.6,254.3 876.0,258.4 C878.4,262.5 881.4,266.7 884.0,269.9 C886.6,273.1 889.1,275.5 891.5,277.4 C893.9,279.3 896.5,280.1 898.5,281.4 C900.5,282.7 901.8,283.6 903.5,285.4 C905.2,287.2 906.9,290.2 909.0,292.4 C911.1,294.6 914.8,297.4 915.9,298.4" fill="none" stroke="#000" stroke-width="2.00" stroke-linejoin="round" stroke-linecap="round"/>
<path d="M792.5,255.5 C794.5,254.2 801.0,249.6 804.7,247.6 C808.4,245.6 811.2,244.7 814.5,243.7 C817.8,242.7 821.4,242.0 824.4,241.7 C827.4,241.4 829.3,241.4 832.3,241.7 C835.2,242.0 839.0,242.9 842.1,243.7 C845.2,244.4 848.7,246.4 851.0,246.2 C853.3,246.0 854.1,243.9 855.9,242.7 C857.7,241.4 860.3,238.9 861.8,238.7 C863.3,238.5 863.8,240.2 864.8,241.7 C865.8,243.2 866.6,244.7 867.7,247.6 C868.8,250.6 870.0,255.1 871.6,259.4 C873.2,263.7 875.5,269.4 877.5,273.2 C879.5,277.0 881.4,279.5 883.4,282.1 C885.4,284.7 887.3,287.3 889.3,288.9 C891.3,290.5 893.2,290.4 895.2,291.9 C897.2,293.4 899.6,296.3 901.1,297.8 C902.6,299.3 902.9,299.5 904.0,300.8 C905.1,302.1 906.9,304.6 907.5,305.4" fill="none" stroke="#5a7a10" stroke-width="2.00" stroke-linejoin="round" stroke-linecap="round"/>
<path d="M792.5,256.5 C794.5,255.0 801.0,249.9 804.7,247.6 C808.4,245.3 811.2,244.2 814.5,242.7 C817.8,241.2 821.4,239.6 824.4,238.7 C827.4,237.8 829.3,237.4 832.3,237.4 C835.2,237.4 839.0,238.2 842.1,238.7 C845.2,239.2 848.7,240.5 851.0,240.3 C853.3,240.2 854.4,239.1 855.9,237.8 C857.4,236.6 858.8,233.3 859.9,232.8 C861.0,232.3 861.7,232.7 862.8,234.8 C863.9,236.9 865.2,241.5 866.7,245.6 C868.2,249.7 869.8,255.0 871.6,259.4 C873.4,263.8 875.5,268.6 877.5,272.2 C879.5,275.8 881.4,278.5 883.4,281.1 C885.4,283.7 887.3,286.4 889.3,288.0 C891.3,289.6 893.2,289.4 895.2,290.9 C897.2,292.4 899.5,295.1 901.1,296.8 C902.7,298.5 903.8,299.4 905.0,300.8 C906.2,302.2 907.9,304.6 908.5,305.4" fill="none" stroke="#c8cc00" stroke-width="2.00" stroke-linejoin="round" stroke-linecap="round"/>
</g>
<g stroke="#000" stroke-width="1.3">
<path d="M792.5,302.1 V304.1"/>
<path d="M848.8,302.1 V304.1"/>
<path d="M905.1,302.1 V304.1"/>
</g>
<rect x="792.5" y="172.4" width="123.3" height="129.7" fill="none" stroke="#000" stroke-width="1.9"/>
<path d="M794.8,181.3 L818.1,181.3" stroke="#000" stroke-width="2.00" fill="none"/>
<text x="821.1" y="185.0" font-size="10.30" font-weight="bold" fill="#000" text-anchor="start">TbEP</text>
<path d="M794.8,194.3 L818.1,194.3" stroke="#5a7a10" stroke-width="2.00" fill="none"/>
<text x="821.1" y="198.0" font-size="10.30" font-weight="bold" fill="#000" text-anchor="start">ItL-03 + Syringol</text>
<path d="M794.8,207.3 L818.1,207.3" stroke="#c8cc00" stroke-width="2.00" fill="none"/>
<text x="821.1" y="211.0" font-size="10.30" font-weight="bold" fill="#000" text-anchor="start">Control + Syringol</text>
<defs><clipPath id="sA4"><rect x="938.8" y="172.2" width="123.2" height="129.9"/></clipPath></defs>
<g clip-path="url(#sA4)">
<path d="M938.8,254.2 C939.8,253.4 942.7,251.1 944.8,249.5 C946.9,247.9 948.5,246.7 951.3,244.5 C954.0,242.3 958.0,238.8 961.3,236.2 C964.5,233.6 967.9,231.1 970.8,229.2 C973.7,227.3 976.8,225.7 978.8,225.0 C980.8,224.3 981.2,224.6 982.8,224.8 C984.4,225.0 986.0,226.0 988.3,226.2 C990.6,226.3 994.7,226.3 996.8,225.7 C998.9,225.1 999.5,223.9 1000.8,222.7 C1002.1,221.4 1003.8,219.0 1004.8,218.2 C1005.8,217.4 1006.1,217.3 1006.8,217.7 C1007.5,218.1 1008.3,218.6 1009.1,220.7 C1009.9,222.8 1010.7,226.1 1011.8,230.2 C1012.9,234.3 1014.0,240.4 1015.8,245.1 C1017.5,249.8 1019.9,254.1 1022.3,258.2 C1024.7,262.3 1027.7,266.5 1030.3,269.7 C1032.9,272.9 1035.4,275.3 1037.8,277.2 C1040.2,279.1 1042.8,279.9 1044.8,281.2 C1046.8,282.5 1048.0,283.4 1049.8,285.2 C1051.5,287.0 1053.2,290.0 1055.3,292.2 C1057.4,294.4 1061.0,297.2 1062.2,298.2" fill="none" stroke="#000" stroke-width="2.00" stroke-linejoin="round" stroke-linecap="round"/>
<path d="M938.8,258.5 C940.9,256.7 947.9,250.8 951.7,247.7 C955.5,244.6 958.3,242.1 961.6,239.8 C964.9,237.5 968.4,235.2 971.4,233.9 C974.4,232.6 976.7,231.9 979.3,231.9 C981.9,231.9 984.2,233.4 987.2,233.9 C990.1,234.4 994.7,235.1 997.0,234.9 C999.3,234.7 999.5,234.0 1001.0,232.9 C1002.5,231.8 1004.6,228.6 1005.9,228.3 C1007.2,228.0 1007.6,228.3 1008.8,230.9 C1009.9,233.5 1011.1,238.6 1012.8,243.7 C1014.4,248.8 1016.7,256.9 1018.7,261.5 C1020.7,266.1 1022.3,268.3 1024.6,271.3 C1026.9,274.2 1029.9,276.7 1032.5,279.2 C1035.1,281.7 1038.1,284.1 1040.4,286.1 C1042.7,288.1 1044.0,288.5 1046.3,291.0 C1048.6,293.5 1052.3,298.5 1054.2,300.9 C1056.1,303.3 1057.2,304.5 1057.8,305.2" fill="none" stroke="#f56a00" stroke-width="2.00" stroke-linejoin="round" stroke-linecap="round"/>
<path d="M938.8,257.7 C940.9,255.9 947.9,250.1 951.7,247.0 C955.5,243.9 958.3,241.5 961.6,239.2 C964.9,236.9 968.4,234.7 971.4,233.4 C974.4,232.1 976.7,231.4 979.3,231.4 C981.9,231.4 984.2,232.9 987.2,233.4 C990.1,233.9 994.7,234.6 997.0,234.4 C999.3,234.2 999.5,233.3 1001.0,232.2 C1002.5,231.0 1004.6,227.8 1005.9,227.5 C1007.2,227.2 1007.6,227.6 1008.8,230.2 C1009.9,232.8 1011.1,238.1 1012.8,243.2 C1014.4,248.3 1016.7,256.4 1018.7,261.0 C1020.7,265.6 1022.3,267.8 1024.6,270.8 C1026.9,273.7 1029.9,276.2 1032.5,278.7 C1035.1,281.2 1038.1,283.6 1040.4,285.6 C1042.7,287.6 1044.0,288.0 1046.3,290.5 C1048.6,293.0 1052.3,297.9 1054.2,300.4 C1056.1,302.8 1057.2,304.4 1057.8,305.2" fill="none" stroke="#ffae1a" stroke-width="2.00" stroke-linejoin="round" stroke-linecap="round"/>
</g>
<g stroke="#000" stroke-width="1.3">
<path d="M938.8,302.1 V304.1"/>
<path d="M995.1,302.1 V304.1"/>
<path d="M1051.3,302.1 V304.1"/>
</g>
<rect x="938.8" y="172.2" width="123.2" height="129.9" fill="none" stroke="#000" stroke-width="1.9"/>
<path d="M941.1,181.1 L964.4,181.1" stroke="#000" stroke-width="2.00" fill="none"/>
<text x="967.4" y="184.8" font-size="10.30" font-weight="bold" fill="#000" text-anchor="start">TbEP</text>
<path d="M941.1,194.1 L964.4,194.1" stroke="#f56a00" stroke-width="2.00" fill="none"/>
<text x="967.4" y="197.8" font-size="10.30" font-weight="bold" fill="#000" text-anchor="start">ItL-03 + TEMPO</text>
<path d="M941.1,207.1 L964.4,207.1" stroke="#ffae1a" stroke-width="2.00" fill="none"/>
<text x="967.4" y="210.8" font-size="10.30" font-weight="bold" fill="#000" text-anchor="start">Control + TEMPO</text>
<text x="792.5" y="313.3" font-size="10.10" font-weight="normal" fill="#000" text-anchor="middle">1250</text>
<text x="848.8" y="313.3" font-size="10.10" font-weight="normal" fill="#000" text-anchor="middle">1200</text>
<text x="905.1" y="313.3" font-size="10.10" font-weight="normal" fill="#000" text-anchor="middle">1150</text>
<text x="802.8" y="329.6" font-size="11.20" font-weight="bold">Wavenumber [cm<tspan font-size="6.94" dy="-4.3">-1</tspan><tspan dy="4.3">]</tspan></text>
<text x="938.8" y="313.3" font-size="10.10" font-weight="normal" fill="#000" text-anchor="middle">1250</text>
<text x="995.1" y="313.3" font-size="10.10" font-weight="normal" fill="#000" text-anchor="middle">1200</text>
<text x="1051.3" y="313.3" font-size="10.10" font-weight="normal" fill="#000" text-anchor="middle">1150</text>
<text x="949.1" y="329.6" font-size="11.20" font-weight="bold">Wavenumber [cm<tspan font-size="6.94" dy="-4.3">-1</tspan><tspan dy="4.3">]</tspan></text>
<text transform="translate(786.0,96.0) rotate(-90)" x="0" y="0" font-size="11.20" font-weight="bold" text-anchor="middle">Absorbance [a.u.]</text>
<text transform="translate(786.0,237.3) rotate(-90)" x="0" y="0" font-size="11.20" font-weight="bold" text-anchor="middle">Absorbance [a.u.]</text>
<text x="901.6" y="18.9" font-size="15.00" font-weight="bold" fill="#0066f2">C-N<tspan font-size="10.20" dy="3.6">arom.</tspan></text>
<defs><clipPath id="sB1"><rect x="792.7" y="385.6" width="123.1" height="129.5"/></clipPath></defs>
<g clip-path="url(#sB1)">
<path d="M792.7,446.9 C793.9,447.0 797.4,447.5 799.7,447.2 C802.0,446.9 804.2,446.0 806.7,445.1 C809.2,444.2 811.7,442.6 814.7,441.6 C817.7,440.6 821.5,439.8 824.7,438.9 C828.0,438.0 831.5,437.2 834.2,436.4 C836.9,435.6 838.8,434.7 840.7,434.1 C842.6,433.5 843.9,432.8 845.7,432.7 C847.5,432.6 849.7,432.9 851.7,433.5 C853.7,434.1 855.6,435.1 857.7,436.4 C859.8,437.7 861.9,439.5 864.2,441.4 C866.5,443.4 869.1,445.8 871.7,448.1 C874.3,450.4 877.7,453.3 879.7,455.4 C881.7,457.5 882.4,458.4 883.7,460.6 C885.0,462.8 886.1,465.7 887.7,468.6 C889.3,471.5 891.4,474.8 893.2,477.9 C895.0,481.0 896.7,484.3 898.7,487.1 C900.7,489.9 903.1,492.2 905.2,494.6 C907.3,497.0 909.4,499.7 911.2,501.4 C913.1,503.2 915.5,504.5 916.3,505.1" fill="none" stroke="#000" stroke-width="2.00" stroke-linejoin="round" stroke-linecap="round"/>
<path d="M792.7,450.6 C793.7,450.4 796.7,449.9 798.7,449.6 C800.8,449.3 802.3,449.3 805.0,449.0 C807.7,448.7 812.1,448.3 814.7,448.0 C817.3,447.7 818.6,446.9 820.7,447.0 C822.8,447.1 825.2,448.7 827.5,448.6 C829.8,448.5 831.6,447.0 834.4,446.6 C837.2,446.2 841.4,445.9 844.3,446.0 C847.2,446.1 849.5,446.6 852.1,447.4 C854.7,448.2 857.4,449.6 860.0,451.0 C862.6,452.4 865.3,454.3 867.9,455.9 C870.5,457.5 873.2,458.7 875.8,460.8 C878.4,462.9 881.4,465.8 883.7,468.7 C886.0,471.7 887.6,475.2 889.6,478.5 C891.6,481.8 893.2,485.1 895.5,488.4 C897.8,491.7 900.7,495.4 903.3,498.2 C905.9,501.0 909.1,503.5 911.2,505.1 C913.3,506.8 915.3,507.6 916.1,508.1" fill="none" stroke="#cc90f8" stroke-width="1.60" stroke-linejoin="round" stroke-linecap="round"/>
<path d="M792.7,458.4 C794.1,458.2 798.3,457.6 801.0,457.3 C803.7,457.0 806.6,456.7 808.9,456.5 C811.2,456.3 812.6,456.3 814.7,455.9 C816.8,455.5 819.4,453.8 821.7,453.9 C824.0,454.0 826.0,456.1 828.5,456.3 C831.0,456.5 833.9,455.5 836.5,455.3 C839.1,455.1 841.7,454.6 844.3,454.9 C846.9,455.2 849.5,456.0 852.1,456.9 C854.7,457.8 857.4,459.1 860.0,460.4 C862.6,461.7 865.3,463.2 867.9,464.7 C870.5,466.2 873.2,467.6 875.8,469.6 C878.4,471.6 881.4,474.1 883.7,476.6 C886.0,479.1 887.6,481.6 889.6,484.5 C891.6,487.4 893.2,491.4 895.5,494.3 C897.8,497.2 900.7,499.6 903.3,502.2 C905.9,504.8 909.1,508.2 911.2,510.0 C913.3,511.8 915.3,512.5 916.1,513.0" fill="none" stroke="#7a00f5" stroke-width="2.00" stroke-linejoin="round" stroke-linecap="round"/>
</g>
<rect x="792.7" y="385.6" width="123.1" height="129.5" fill="none" stroke="#000" stroke-width="1.9"/>
<path d="M795.0,394.5 L818.3,394.5" stroke="#000" stroke-width="2.00" fill="none"/>
<text x="821.3" y="398.2" font-size="10.30" font-weight="bold" fill="#000" text-anchor="start">PT-TbEP</text>
<path d="M795.0,407.5 L818.3,407.5" stroke="#7a00f5" stroke-width="2.00" fill="none"/>
<text x="821.3" y="411.2" font-size="10.30" font-weight="bold" fill="#000" text-anchor="start">ItL-03</text>
<path d="M795.0,420.5 L818.3,420.5" stroke="#cc90f8" stroke-width="1.60" fill="none"/>
<text x="821.3" y="424.2" font-size="10.30" font-weight="bold" fill="#000" text-anchor="start">Control</text>
<defs><clipPath id="sB2"><rect x="938.7" y="385.6" width="123.5" height="129.5"/></clipPath></defs>
<g clip-path="url(#sB2)">
<path d="M938.7,446.9 C939.9,447.0 943.4,447.5 945.7,447.2 C948.0,446.9 950.2,446.0 952.7,445.1 C955.2,444.2 957.7,442.6 960.7,441.6 C963.7,440.6 967.5,439.8 970.7,438.9 C974.0,438.0 977.5,437.2 980.2,436.4 C982.9,435.6 984.8,434.7 986.7,434.1 C988.6,433.5 989.9,432.8 991.7,432.7 C993.5,432.6 995.7,432.9 997.7,433.5 C999.7,434.1 1001.6,435.1 1003.7,436.4 C1005.8,437.7 1007.9,439.5 1010.2,441.4 C1012.5,443.4 1015.1,445.8 1017.7,448.1 C1020.3,450.4 1023.7,453.3 1025.7,455.4 C1027.7,457.5 1028.4,458.4 1029.7,460.6 C1031.0,462.8 1032.1,465.7 1033.7,468.6 C1035.3,471.5 1037.4,474.8 1039.2,477.9 C1041.0,481.0 1042.7,484.3 1044.7,487.1 C1046.7,489.9 1049.1,492.2 1051.2,494.6 C1053.3,497.0 1055.4,499.7 1057.2,501.4 C1059.0,503.2 1061.5,504.5 1062.3,505.1" fill="none" stroke="#000" stroke-width="2.00" stroke-linejoin="round" stroke-linecap="round"/>
<path d="M938.7,458.9 C940.2,458.6 945.1,457.9 948.0,456.9 C950.9,455.9 953.5,454.2 955.8,452.9 C958.1,451.6 960.1,449.6 961.7,449.0 C963.4,448.4 964.1,448.7 965.7,449.0 C967.4,449.3 969.0,450.5 971.6,450.6 C974.2,450.7 978.5,449.9 981.4,449.4 C984.4,448.9 986.7,447.6 989.3,447.4 C991.9,447.2 994.6,447.6 997.2,448.0 C999.8,448.4 1002.5,449.2 1005.1,450.0 C1007.7,450.8 1010.4,451.8 1013.0,452.9 C1015.6,454.1 1018.6,455.3 1020.9,456.9 C1023.2,458.6 1024.8,460.2 1026.8,462.8 C1028.8,465.4 1030.7,469.4 1032.7,472.7 C1034.7,476.0 1036.3,479.2 1038.6,482.5 C1040.9,485.8 1043.9,489.6 1046.5,492.4 C1049.1,495.2 1051.8,497.3 1054.4,499.3 C1057.0,501.3 1060.9,503.7 1062.2,504.6" fill="none" stroke="#10d080" stroke-width="1.80" stroke-linejoin="round" stroke-linecap="round"/>
<path d="M938.7,464.2 C940.2,463.9 945.1,463.3 948.0,462.4 C950.9,461.5 953.5,460.3 955.8,458.9 C958.1,457.5 959.7,454.7 961.7,454.0 C963.7,453.3 965.3,454.7 967.6,454.9 C969.9,455.1 972.9,455.4 975.5,455.3 C978.1,455.2 981.1,454.8 983.4,454.5 C985.7,454.2 987.0,453.5 989.3,453.4 C991.6,453.3 994.6,453.6 997.2,454.0 C999.8,454.4 1002.5,455.1 1005.1,455.9 C1007.7,456.7 1010.4,457.8 1013.0,458.9 C1015.6,460.1 1018.6,461.2 1020.9,462.8 C1023.2,464.4 1024.8,466.4 1026.8,468.7 C1028.8,471.0 1030.7,474.0 1032.7,476.6 C1034.7,479.2 1036.3,481.5 1038.6,484.5 C1040.9,487.5 1043.9,491.6 1046.5,494.4 C1049.1,497.2 1051.8,499.2 1054.4,501.3 C1057.0,503.4 1060.9,506.1 1062.2,507.1" fill="none" stroke="#0a8a50" stroke-width="2.00" stroke-linejoin="round" stroke-linecap="round"/>
</g>
<rect x="938.7" y="385.6" width="123.5" height="129.5" fill="none" stroke="#000" stroke-width="1.9"/>
<path d="M941.0,394.5 L964.3,394.5" stroke="#000" stroke-width="2.00" fill="none"/>
<text x="967.3" y="398.2" font-size="10.30" font-weight="bold" fill="#000" text-anchor="start">PT-TbEP</text>
<path d="M941.0,407.5 L964.3,407.5" stroke="#0a8a50" stroke-width="2.00" fill="none"/>
<text x="967.3" y="411.2" font-size="10.30" font-weight="bold" fill="#000" text-anchor="start">ItL-03 + ABTS</text>
<path d="M941.0,420.5 L964.3,420.5" stroke="#10d080" stroke-width="1.80" fill="none"/>
<text x="967.3" y="424.2" font-size="10.30" font-weight="bold" fill="#000" text-anchor="start">Control + ABTS</text>
<defs><clipPath id="sB3"><rect x="792.7" y="528.6" width="123.1" height="129.2"/></clipPath></defs>
<g clip-path="url(#sB3)">
<path d="M792.7,589.9 C793.9,590.0 797.4,590.5 799.7,590.2 C802.0,589.9 804.2,589.0 806.7,588.1 C809.2,587.2 811.7,585.6 814.7,584.6 C817.7,583.6 821.5,582.8 824.7,581.9 C828.0,581.0 831.5,580.2 834.2,579.4 C836.9,578.6 838.8,577.7 840.7,577.1 C842.6,576.5 843.9,575.8 845.7,575.7 C847.5,575.6 849.7,575.9 851.7,576.5 C853.7,577.1 855.6,578.1 857.7,579.4 C859.8,580.7 861.9,582.4 864.2,584.4 C866.5,586.4 869.1,588.8 871.7,591.1 C874.3,593.4 877.7,596.3 879.7,598.4 C881.7,600.5 882.4,601.4 883.7,603.6 C885.0,605.8 886.1,608.7 887.7,611.6 C889.3,614.5 891.4,617.8 893.2,620.9 C895.0,624.0 896.7,627.3 898.7,630.1 C900.7,632.9 903.1,635.2 905.2,637.6 C907.3,640.0 909.4,642.6 911.2,644.4 C913.1,646.1 915.5,647.5 916.3,648.1" fill="none" stroke="#000" stroke-width="2.00" stroke-linejoin="round" stroke-linecap="round"/>
<path d="M792.7,613.4 C794.1,614.2 798.2,617.2 800.8,618.4 C803.5,619.5 806.0,619.3 808.6,620.3 C811.2,621.3 813.9,623.2 816.5,624.3 C819.1,625.5 821.5,626.2 824.4,627.2 C827.4,628.2 830.9,629.3 834.2,630.2 C837.5,631.1 841.1,632.2 844.1,632.7 C847.1,633.2 849.9,633.3 851.9,633.5 C853.9,633.7 854.6,635.0 855.9,634.1 C857.2,633.2 858.5,630.3 859.8,628.2 C861.1,626.1 862.7,622.2 863.8,621.7 C865.0,621.2 865.7,623.1 866.7,625.3 C867.7,627.5 868.6,632.3 869.7,635.1 C870.9,637.9 872.0,640.0 873.6,642.0 C875.2,644.0 877.5,645.1 879.5,646.9 C881.5,648.7 883.4,651.0 885.4,652.8 C887.4,654.6 889.9,656.2 891.3,657.7 C892.7,659.2 893.3,661.0 893.7,661.6" fill="none" stroke="#5a7a10" stroke-width="2.00" stroke-linejoin="round" stroke-linecap="round"/>
<path d="M792.7,595.3 C794.1,596.2 798.2,599.1 800.8,600.6 C803.5,602.1 806.0,603.1 808.6,604.6 C811.2,606.1 813.9,608.0 816.5,609.5 C819.1,611.0 821.5,612.2 824.4,613.4 C827.4,614.6 830.9,615.8 834.2,616.8 C837.5,617.8 841.1,618.5 844.1,619.3 C847.1,620.1 849.8,621.1 851.9,621.7 C854.0,622.3 855.3,623.5 856.8,622.9 C858.3,622.3 859.5,620.1 860.8,618.4 C862.1,616.6 863.6,612.9 864.7,612.4 C865.9,611.9 866.6,612.9 867.7,615.4 C868.9,617.9 870.0,624.2 871.6,627.2 C873.2,630.2 875.5,631.1 877.5,633.1 C879.5,635.1 881.4,636.7 883.4,639.0 C885.4,641.3 887.3,644.3 889.3,646.9 C891.3,649.5 893.6,652.8 895.2,654.8 C896.9,656.8 898.3,657.6 899.2,658.7 C900.1,659.8 900.5,661.1 900.7,661.6" fill="none" stroke="#c8cc00" stroke-width="2.00" stroke-linejoin="round" stroke-linecap="round"/>
</g>
<g stroke="#000" stroke-width="1.3">
<path d="M792.7,657.8 V661.0"/>
<path d="M819.4,657.8 V659.6"/>
<path d="M846.1,657.8 V661.0"/>
<path d="M872.8,657.8 V659.6"/>
<path d="M899.5,657.8 V661.0"/>
</g>
<rect x="792.7" y="528.6" width="123.1" height="129.2" fill="none" stroke="#000" stroke-width="1.9"/>
<path d="M795.0,537.5 L818.3,537.5" stroke="#000" stroke-width="2.00" fill="none"/>
<text x="821.3" y="541.2" font-size="10.30" font-weight="bold" fill="#000" text-anchor="start">PT-TbEP</text>
<path d="M795.0,550.5 L818.3,550.5" stroke="#5a7a10" stroke-width="2.00" fill="none"/>
<text x="821.3" y="554.2" font-size="10.30" font-weight="bold" fill="#000" text-anchor="start">ItL-03 + Syringol</text>
<path d="M795.0,563.5 L818.3,563.5" stroke="#c8cc00" stroke-width="2.00" fill="none"/>
<text x="821.3" y="567.2" font-size="10.30" font-weight="bold" fill="#000" text-anchor="start">Control + Syringol</text>
<defs><clipPath id="sB4"><rect x="938.7" y="528.6" width="123.5" height="129.2"/></clipPath></defs>
<g clip-path="url(#sB4)">
<path d="M938.7,589.9 C939.9,590.0 943.4,590.5 945.7,590.2 C948.0,589.9 950.2,589.0 952.7,588.1 C955.2,587.2 957.7,585.6 960.7,584.6 C963.7,583.6 967.5,582.8 970.7,581.9 C974.0,581.0 977.5,580.2 980.2,579.4 C982.9,578.6 984.8,577.7 986.7,577.1 C988.6,576.5 989.9,575.8 991.7,575.7 C993.5,575.6 995.7,575.9 997.7,576.5 C999.7,577.1 1001.6,578.1 1003.7,579.4 C1005.8,580.7 1007.9,582.4 1010.2,584.4 C1012.5,586.4 1015.1,588.8 1017.7,591.1 C1020.3,593.4 1023.7,596.3 1025.7,598.4 C1027.7,600.5 1028.4,601.4 1029.7,603.6 C1031.0,605.8 1032.1,608.7 1033.7,611.6 C1035.3,614.5 1037.4,617.8 1039.2,620.9 C1041.0,624.0 1042.7,627.3 1044.7,630.1 C1046.7,632.9 1049.1,635.2 1051.2,637.6 C1053.3,640.0 1055.4,642.6 1057.2,644.4 C1059.0,646.1 1061.5,647.5 1062.3,648.1" fill="none" stroke="#000" stroke-width="2.00" stroke-linejoin="round" stroke-linecap="round"/>
<path d="M938.7,607.0 C940.2,606.8 945.1,606.4 948.0,606.0 C950.9,605.6 953.2,605.0 955.8,604.6 C958.4,604.2 961.1,603.7 963.7,603.6 C966.3,603.5 969.0,603.9 971.6,604.0 C974.2,604.1 976.5,604.3 979.5,604.2 C982.5,604.1 986.4,603.6 989.3,603.6 C992.3,603.6 994.9,603.9 997.2,604.4 C999.5,604.9 1000.8,605.5 1003.1,606.6 C1005.4,607.7 1008.4,609.6 1011.0,611.1 C1013.6,612.6 1016.3,613.6 1018.9,615.5 C1021.5,617.4 1024.2,619.8 1026.8,622.4 C1029.4,625.0 1032.1,628.1 1034.7,631.2 C1037.3,634.3 1040.0,638.0 1042.6,641.1 C1045.2,644.2 1047.9,647.4 1050.5,650.0 C1053.1,652.6 1056.3,655.1 1058.3,656.9 C1060.3,658.7 1061.6,660.0 1062.3,660.6" fill="none" stroke="#f56a00" stroke-width="2.00" stroke-linejoin="round" stroke-linecap="round"/>
<path d="M938.7,598.3 C940.2,598.1 945.1,597.7 948.0,597.3 C950.9,596.9 953.2,596.1 955.8,595.7 C958.4,595.3 961.1,595.0 963.7,595.0 C966.3,595.0 969.0,595.4 971.6,595.4 C974.2,595.4 976.9,595.3 979.5,595.0 C982.1,594.7 984.8,593.6 987.4,593.4 C990.0,593.2 993.0,593.5 995.3,593.8 C997.6,594.1 998.9,594.6 1001.2,595.4 C1003.5,596.2 1006.5,597.3 1009.1,598.7 C1011.7,600.1 1014.4,601.8 1017.0,603.6 C1019.6,605.4 1022.6,607.5 1024.9,609.5 C1027.2,611.5 1028.8,612.9 1030.8,615.5 C1032.8,618.1 1034.7,622.2 1036.7,625.3 C1038.7,628.4 1040.6,631.6 1042.6,634.2 C1044.6,636.8 1046.2,638.8 1048.5,641.1 C1050.8,643.4 1054.1,646.2 1056.4,648.0 C1058.7,649.8 1061.3,651.0 1062.3,651.6" fill="none" stroke="#ffae1a" stroke-width="2.00" stroke-linejoin="round" stroke-linecap="round"/>
</g>
<g stroke="#000" stroke-width="1.3">
<path d="M938.7,657.8 V661.0"/>
<path d="M965.5,657.8 V659.6"/>
<path d="M992.3,657.8 V661.0"/>
<path d="M1019.0,657.8 V659.6"/>
<path d="M1045.8,657.8 V661.0"/>
</g>
<rect x="938.7" y="528.6" width="123.5" height="129.2" fill="none" stroke="#000" stroke-width="1.9"/>
<path d="M941.0,537.5 L964.3,537.5" stroke="#000" stroke-width="2.00" fill="none"/>
<text x="967.3" y="541.2" font-size="10.30" font-weight="bold" fill="#000" text-anchor="start">PT-TbEP</text>
<path d="M941.0,550.5 L964.3,550.5" stroke="#f56a00" stroke-width="2.00" fill="none"/>
<text x="967.3" y="554.2" font-size="10.30" font-weight="bold" fill="#000" text-anchor="start">ItL-03 + TEMPO</text>
<path d="M941.0,563.5 L964.3,563.5" stroke="#ffae1a" stroke-width="2.00" fill="none"/>
<text x="967.3" y="567.2" font-size="10.30" font-weight="bold" fill="#000" text-anchor="start">Control + TEMPO</text>
<text x="792.7" y="672.3" font-size="10.10" font-weight="normal" fill="#000" text-anchor="middle">1250</text>
<text x="846.1" y="672.3" font-size="10.10" font-weight="normal" fill="#000" text-anchor="middle">1200</text>
<text x="899.5" y="672.3" font-size="10.10" font-weight="normal" fill="#000" text-anchor="middle">1150</text>
<text x="803.0" y="684.8" font-size="11.20" font-weight="bold">Wavenumber [cm<tspan font-size="6.94" dy="-4.3">-1</tspan><tspan dy="4.3">]</tspan></text>
<text x="938.7" y="672.3" font-size="10.10" font-weight="normal" fill="#000" text-anchor="middle">1250</text>
<text x="992.3" y="672.3" font-size="10.10" font-weight="normal" fill="#000" text-anchor="middle">1200</text>
<text x="1045.8" y="672.3" font-size="10.10" font-weight="normal" fill="#000" text-anchor="middle">1150</text>
<text x="949.0" y="684.8" font-size="11.20" font-weight="bold">Wavenumber [cm<tspan font-size="6.94" dy="-4.3">-1</tspan><tspan dy="4.3">]</tspan></text>
<text transform="translate(786.0,451.0) rotate(-90)" x="0" y="0" font-size="11.20" font-weight="bold" text-anchor="middle">Absorbance [a.u.]</text>
<text transform="translate(786.0,593.0) rotate(-90)" x="0" y="0" font-size="11.20" font-weight="bold" text-anchor="middle">Absorbance [a.u.]</text>
<text x="901.7" y="374.8" font-size="15.00" font-weight="bold" fill="#0066f2">C-N<tspan font-size="10.20" dy="3.6">arom.</tspan></text>
</svg>
</body></html>
